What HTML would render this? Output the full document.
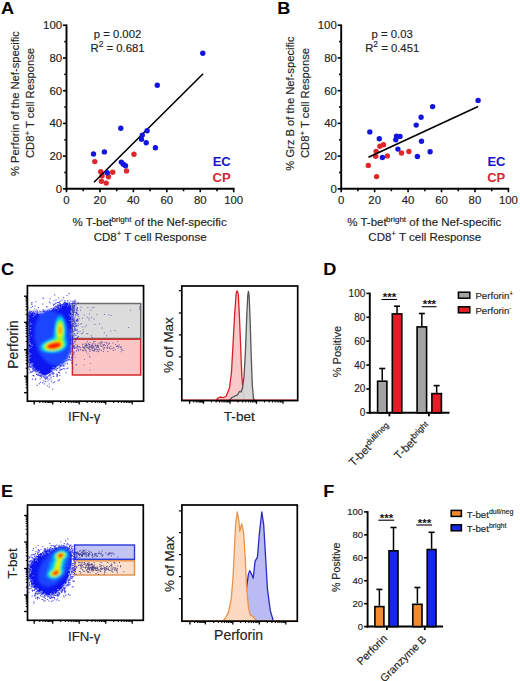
<!DOCTYPE html>
<html><head><meta charset="utf-8"><style>
html,body{margin:0;padding:0;background:#fff;}
svg{display:block;}
text{font-family:"Liberation Sans",sans-serif;}
</style></head><body>
<svg width="520" height="681" viewBox="0 0 520 681">
<rect width="520" height="681" fill="#fff"/>
<g transform="translate(1.0,13.6) scale(1.1,1)">
<text x="0.00" y="0.00" font-size="16.5" text-anchor="start" font-weight="bold" fill="#000" >A</text>
</g>
<g transform="translate(277.2,13.6) scale(1.1,1)">
<text x="0.00" y="0.00" font-size="16.5" text-anchor="start" font-weight="bold" fill="#000" >B</text>
</g>
<g transform="translate(1.0,275.4) scale(1.1,1)">
<text x="0.00" y="0.00" font-size="16.5" text-anchor="start" font-weight="bold" fill="#000" >C</text>
</g>
<g transform="translate(323.2,275.4) scale(1.1,1)">
<text x="0.00" y="0.00" font-size="16.5" text-anchor="start" font-weight="bold" fill="#000" >D</text>
</g>
<g transform="translate(1.0,497.0) scale(1.1,1)">
<text x="0.00" y="0.00" font-size="16.5" text-anchor="start" font-weight="bold" fill="#000" >E</text>
</g>
<g transform="translate(323.2,497.0) scale(1.1,1)">
<text x="0.00" y="0.00" font-size="16.5" text-anchor="start" font-weight="bold" fill="#000" >F</text>
</g>
<line x1="62.90" y1="188.85" x2="66.50" y2="188.85" stroke="#000" stroke-width="1.6" />
<line x1="64.30" y1="172.49" x2="66.50" y2="172.49" stroke="#000" stroke-width="1.6" />
<line x1="62.90" y1="156.13" x2="66.50" y2="156.13" stroke="#000" stroke-width="1.6" />
<line x1="64.30" y1="139.77" x2="66.50" y2="139.77" stroke="#000" stroke-width="1.6" />
<line x1="62.90" y1="123.41" x2="66.50" y2="123.41" stroke="#000" stroke-width="1.6" />
<line x1="64.30" y1="107.05" x2="66.50" y2="107.05" stroke="#000" stroke-width="1.6" />
<line x1="62.90" y1="90.69" x2="66.50" y2="90.69" stroke="#000" stroke-width="1.6" />
<line x1="64.30" y1="74.33" x2="66.50" y2="74.33" stroke="#000" stroke-width="1.6" />
<line x1="62.90" y1="57.97" x2="66.50" y2="57.97" stroke="#000" stroke-width="1.6" />
<line x1="64.30" y1="41.61" x2="66.50" y2="41.61" stroke="#000" stroke-width="1.6" />
<line x1="62.90" y1="25.25" x2="66.50" y2="25.25" stroke="#000" stroke-width="1.6" />
<line x1="66.50" y1="188.85" x2="66.50" y2="192.25" stroke="#000" stroke-width="1.6" />
<line x1="83.22" y1="188.85" x2="83.22" y2="191.25" stroke="#000" stroke-width="1.6" />
<line x1="99.94" y1="188.85" x2="99.94" y2="192.25" stroke="#000" stroke-width="1.6" />
<line x1="116.66" y1="188.85" x2="116.66" y2="191.25" stroke="#000" stroke-width="1.6" />
<line x1="133.38" y1="188.85" x2="133.38" y2="192.25" stroke="#000" stroke-width="1.6" />
<line x1="150.10" y1="188.85" x2="150.10" y2="191.25" stroke="#000" stroke-width="1.6" />
<line x1="166.82" y1="188.85" x2="166.82" y2="192.25" stroke="#000" stroke-width="1.6" />
<line x1="183.54" y1="188.85" x2="183.54" y2="191.25" stroke="#000" stroke-width="1.6" />
<line x1="200.26" y1="188.85" x2="200.26" y2="192.25" stroke="#000" stroke-width="1.6" />
<line x1="216.98" y1="188.85" x2="216.98" y2="191.25" stroke="#000" stroke-width="1.6" />
<line x1="233.70" y1="188.85" x2="233.70" y2="192.25" stroke="#000" stroke-width="1.6" />
<line x1="66.50" y1="24.45" x2="66.50" y2="189.85" stroke="#000" stroke-width="1.9" />
<line x1="65.60" y1="188.85" x2="234.50" y2="188.85" stroke="#000" stroke-width="2.0" />
<text x="62.10" y="192.80" font-size="11.4" text-anchor="end" font-weight="normal" fill="#222" stroke="#222" stroke-width="0.15" >0</text>
<text x="66.50" y="203.75" font-size="11.4" text-anchor="middle" font-weight="normal" fill="#222" stroke="#222" stroke-width="0.15" >0</text>
<text x="62.10" y="160.08" font-size="11.4" text-anchor="end" font-weight="normal" fill="#222" stroke="#222" stroke-width="0.15" >20</text>
<text x="99.94" y="203.75" font-size="11.4" text-anchor="middle" font-weight="normal" fill="#222" stroke="#222" stroke-width="0.15" >20</text>
<text x="62.10" y="127.36" font-size="11.4" text-anchor="end" font-weight="normal" fill="#222" stroke="#222" stroke-width="0.15" >40</text>
<text x="133.38" y="203.75" font-size="11.4" text-anchor="middle" font-weight="normal" fill="#222" stroke="#222" stroke-width="0.15" >40</text>
<text x="62.10" y="94.64" font-size="11.4" text-anchor="end" font-weight="normal" fill="#222" stroke="#222" stroke-width="0.15" >60</text>
<text x="166.82" y="203.75" font-size="11.4" text-anchor="middle" font-weight="normal" fill="#222" stroke="#222" stroke-width="0.15" >60</text>
<text x="62.10" y="61.92" font-size="11.4" text-anchor="end" font-weight="normal" fill="#222" stroke="#222" stroke-width="0.15" >80</text>
<text x="200.26" y="203.75" font-size="11.4" text-anchor="middle" font-weight="normal" fill="#222" stroke="#222" stroke-width="0.15" >80</text>
<text x="62.10" y="29.20" font-size="11.4" text-anchor="end" font-weight="normal" fill="#222" stroke="#222" stroke-width="0.15" >100</text>
<text x="233.70" y="203.75" font-size="11.4" text-anchor="middle" font-weight="normal" fill="#222" stroke="#222" stroke-width="0.15" >100</text>
<circle cx="94.8" cy="161.6" r="2.7" fill="#e0282c"/>
<circle cx="134.0" cy="154.2" r="2.7" fill="#e0282c"/>
<circle cx="100.7" cy="171.7" r="2.7" fill="#e0282c"/>
<circle cx="112.7" cy="172.3" r="2.7" fill="#e0282c"/>
<circle cx="126.5" cy="170.9" r="2.7" fill="#e0282c"/>
<circle cx="108.5" cy="176.7" r="2.7" fill="#e0282c"/>
<circle cx="102.1" cy="175.7" r="2.7" fill="#e0282c"/>
<circle cx="101.4" cy="181.3" r="2.7" fill="#e0282c"/>
<circle cx="106.2" cy="183.1" r="2.7" fill="#e0282c"/>
<line x1="94.00" y1="182.20" x2="203.10" y2="73.80" stroke="#000" stroke-width="1.6" />
<circle cx="202.8" cy="53.2" r="2.7" fill="#1414e0"/>
<circle cx="157.3" cy="85.2" r="2.7" fill="#1414e0"/>
<circle cx="120.8" cy="128.3" r="2.7" fill="#1414e0"/>
<circle cx="147.1" cy="130.8" r="2.7" fill="#1414e0"/>
<circle cx="142.3" cy="135.1" r="2.7" fill="#1414e0"/>
<circle cx="141.5" cy="139.2" r="2.7" fill="#1414e0"/>
<circle cx="146.2" cy="142.7" r="2.7" fill="#1414e0"/>
<circle cx="155.4" cy="147.7" r="2.7" fill="#1414e0"/>
<circle cx="93.5" cy="154.0" r="2.7" fill="#1414e0"/>
<circle cx="104.4" cy="151.9" r="2.7" fill="#1414e0"/>
<circle cx="121.3" cy="162.1" r="2.7" fill="#1414e0"/>
<circle cx="123.3" cy="164.3" r="2.7" fill="#1414e0"/>
<circle cx="125.5" cy="165.8" r="2.7" fill="#1414e0"/>
<circle cx="107.2" cy="172.7" r="2.7" fill="#1414e0"/>
<text x="117.50" y="37.50" font-size="11.3" text-anchor="middle" font-weight="normal" fill="#222" stroke="#222" stroke-width="0.15" >p = 0.002</text>
<text x="117.50" y="51.90" font-size="11.3" text-anchor="middle" font-weight="normal" fill="#222" stroke="#222" stroke-width="0.15" >R<tspan font-size="8.5" dy="-4.6">2</tspan><tspan dy="4.6"> = 0.681</tspan></text>
<text x="212.70" y="166.00" font-size="13" text-anchor="start" font-weight="bold" fill="#1414d0" >EC</text>
<text x="212.50" y="181.60" font-size="13" text-anchor="start" font-weight="bold" fill="#d42830" >CP</text>
<text x="149.60" y="226.20" font-size="11.5" text-anchor="middle" font-weight="normal" fill="#222" stroke="#222" stroke-width="0.15" >% T-bet<tspan font-size="8" dy="-4.4" dx="-0.6">bright</tspan><tspan dy="4.4"> of the Nef-specific</tspan></text>
<text x="150.10" y="240.70" font-size="11.5" text-anchor="middle" font-weight="normal" fill="#222" stroke="#222" stroke-width="0.15" >CD8<tspan font-size="8" dy="-4.4">+</tspan><tspan dy="4.4"> T cell Response</tspan></text>
<g transform="translate(18.9,103.5) rotate(-90)">
<text x="0.00" y="0.00" font-size="11.2" text-anchor="middle" font-weight="normal" fill="#222" stroke="#222" stroke-width="0.15" >% Perforin of the Nef-specific</text>
<text x="0.50" y="15.50" font-size="11.2" text-anchor="middle" font-weight="normal" fill="#222" stroke="#222" stroke-width="0.15" >CD8<tspan font-size="8" dy="-4.3">+</tspan><tspan dy="4.3"> T cell Response</tspan></text>
</g>
<line x1="337.60" y1="188.85" x2="341.20" y2="188.85" stroke="#000" stroke-width="1.6" />
<line x1="339.00" y1="172.49" x2="341.20" y2="172.49" stroke="#000" stroke-width="1.6" />
<line x1="337.60" y1="156.13" x2="341.20" y2="156.13" stroke="#000" stroke-width="1.6" />
<line x1="339.00" y1="139.77" x2="341.20" y2="139.77" stroke="#000" stroke-width="1.6" />
<line x1="337.60" y1="123.41" x2="341.20" y2="123.41" stroke="#000" stroke-width="1.6" />
<line x1="339.00" y1="107.05" x2="341.20" y2="107.05" stroke="#000" stroke-width="1.6" />
<line x1="337.60" y1="90.69" x2="341.20" y2="90.69" stroke="#000" stroke-width="1.6" />
<line x1="339.00" y1="74.33" x2="341.20" y2="74.33" stroke="#000" stroke-width="1.6" />
<line x1="337.60" y1="57.97" x2="341.20" y2="57.97" stroke="#000" stroke-width="1.6" />
<line x1="339.00" y1="41.61" x2="341.20" y2="41.61" stroke="#000" stroke-width="1.6" />
<line x1="337.60" y1="25.25" x2="341.20" y2="25.25" stroke="#000" stroke-width="1.6" />
<line x1="341.20" y1="188.85" x2="341.20" y2="192.25" stroke="#000" stroke-width="1.6" />
<line x1="357.92" y1="188.85" x2="357.92" y2="191.25" stroke="#000" stroke-width="1.6" />
<line x1="374.64" y1="188.85" x2="374.64" y2="192.25" stroke="#000" stroke-width="1.6" />
<line x1="391.36" y1="188.85" x2="391.36" y2="191.25" stroke="#000" stroke-width="1.6" />
<line x1="408.08" y1="188.85" x2="408.08" y2="192.25" stroke="#000" stroke-width="1.6" />
<line x1="424.80" y1="188.85" x2="424.80" y2="191.25" stroke="#000" stroke-width="1.6" />
<line x1="441.52" y1="188.85" x2="441.52" y2="192.25" stroke="#000" stroke-width="1.6" />
<line x1="458.24" y1="188.85" x2="458.24" y2="191.25" stroke="#000" stroke-width="1.6" />
<line x1="474.96" y1="188.85" x2="474.96" y2="192.25" stroke="#000" stroke-width="1.6" />
<line x1="491.68" y1="188.85" x2="491.68" y2="191.25" stroke="#000" stroke-width="1.6" />
<line x1="508.40" y1="188.85" x2="508.40" y2="192.25" stroke="#000" stroke-width="1.6" />
<line x1="341.20" y1="24.45" x2="341.20" y2="189.85" stroke="#000" stroke-width="1.9" />
<line x1="340.30" y1="188.85" x2="509.20" y2="188.85" stroke="#000" stroke-width="2.0" />
<text x="336.80" y="192.80" font-size="11.4" text-anchor="end" font-weight="normal" fill="#222" stroke="#222" stroke-width="0.15" >0</text>
<text x="341.20" y="203.75" font-size="11.4" text-anchor="middle" font-weight="normal" fill="#222" stroke="#222" stroke-width="0.15" >0</text>
<text x="336.80" y="160.08" font-size="11.4" text-anchor="end" font-weight="normal" fill="#222" stroke="#222" stroke-width="0.15" >20</text>
<text x="374.64" y="203.75" font-size="11.4" text-anchor="middle" font-weight="normal" fill="#222" stroke="#222" stroke-width="0.15" >20</text>
<text x="336.80" y="127.36" font-size="11.4" text-anchor="end" font-weight="normal" fill="#222" stroke="#222" stroke-width="0.15" >40</text>
<text x="408.08" y="203.75" font-size="11.4" text-anchor="middle" font-weight="normal" fill="#222" stroke="#222" stroke-width="0.15" >40</text>
<text x="336.80" y="94.64" font-size="11.4" text-anchor="end" font-weight="normal" fill="#222" stroke="#222" stroke-width="0.15" >60</text>
<text x="441.52" y="203.75" font-size="11.4" text-anchor="middle" font-weight="normal" fill="#222" stroke="#222" stroke-width="0.15" >60</text>
<text x="336.80" y="61.92" font-size="11.4" text-anchor="end" font-weight="normal" fill="#222" stroke="#222" stroke-width="0.15" >80</text>
<text x="474.96" y="203.75" font-size="11.4" text-anchor="middle" font-weight="normal" fill="#222" stroke="#222" stroke-width="0.15" >80</text>
<text x="336.80" y="29.20" font-size="11.4" text-anchor="end" font-weight="normal" fill="#222" stroke="#222" stroke-width="0.15" >100</text>
<text x="508.40" y="203.75" font-size="11.4" text-anchor="middle" font-weight="normal" fill="#222" stroke="#222" stroke-width="0.15" >100</text>
<circle cx="379.9" cy="146.2" r="2.7" fill="#e0282c"/>
<circle cx="383.5" cy="144.8" r="2.7" fill="#e0282c"/>
<circle cx="376.1" cy="151.5" r="2.7" fill="#e0282c"/>
<circle cx="375.7" cy="156.2" r="2.7" fill="#e0282c"/>
<circle cx="387.3" cy="155.9" r="2.7" fill="#e0282c"/>
<circle cx="401.5" cy="153.0" r="2.7" fill="#e0282c"/>
<circle cx="408.9" cy="151.5" r="2.7" fill="#e0282c"/>
<circle cx="368.3" cy="165.4" r="2.7" fill="#e0282c"/>
<circle cx="376.6" cy="176.6" r="2.7" fill="#e0282c"/>
<line x1="368.50" y1="157.30" x2="478.10" y2="106.50" stroke="#000" stroke-width="1.6" />
<circle cx="478.1" cy="100.4" r="2.7" fill="#1414e0"/>
<circle cx="432.6" cy="106.6" r="2.7" fill="#1414e0"/>
<circle cx="421.1" cy="117.2" r="2.7" fill="#1414e0"/>
<circle cx="416.2" cy="125.1" r="2.7" fill="#1414e0"/>
<circle cx="369.8" cy="131.9" r="2.7" fill="#1414e0"/>
<circle cx="379.3" cy="138.8" r="2.7" fill="#1414e0"/>
<circle cx="396.5" cy="136.1" r="2.7" fill="#1414e0"/>
<circle cx="400.0" cy="136.4" r="2.7" fill="#1414e0"/>
<circle cx="395.8" cy="139.8" r="2.7" fill="#1414e0"/>
<circle cx="421.5" cy="141.2" r="2.7" fill="#1414e0"/>
<circle cx="397.9" cy="149.1" r="2.7" fill="#1414e0"/>
<circle cx="430.1" cy="151.8" r="2.7" fill="#1414e0"/>
<circle cx="417.4" cy="156.5" r="2.7" fill="#1414e0"/>
<circle cx="382.4" cy="157.5" r="2.7" fill="#1414e0"/>
<text x="392.20" y="37.50" font-size="11.3" text-anchor="middle" font-weight="normal" fill="#222" stroke="#222" stroke-width="0.15" >p = 0.03</text>
<text x="392.20" y="51.90" font-size="11.3" text-anchor="middle" font-weight="normal" fill="#222" stroke="#222" stroke-width="0.15" >R<tspan font-size="8.5" dy="-4.6">2</tspan><tspan dy="4.6"> = 0.451</tspan></text>
<text x="487.40" y="166.00" font-size="13" text-anchor="start" font-weight="bold" fill="#1414d0" >EC</text>
<text x="487.20" y="181.60" font-size="13" text-anchor="start" font-weight="bold" fill="#d42830" >CP</text>
<text x="424.30" y="226.20" font-size="11.5" text-anchor="middle" font-weight="normal" fill="#222" stroke="#222" stroke-width="0.15" >% T-bet<tspan font-size="8" dy="-4.4" dx="-0.6">bright</tspan><tspan dy="4.4"> of the Nef-specific</tspan></text>
<text x="424.80" y="240.70" font-size="11.5" text-anchor="middle" font-weight="normal" fill="#222" stroke="#222" stroke-width="0.15" >CD8<tspan font-size="8" dy="-4.4">+</tspan><tspan dy="4.4"> T cell Response</tspan></text>
<g transform="translate(293.59999999999997,103.5) rotate(-90)">
<text x="0.00" y="0.00" font-size="11.2" text-anchor="middle" font-weight="normal" fill="#222" stroke="#222" stroke-width="0.15" >% Grz B of the Nef-specific</text>
<text x="0.50" y="15.50" font-size="11.2" text-anchor="middle" font-weight="normal" fill="#222" stroke="#222" stroke-width="0.15" >CD8<tspan font-size="8" dy="-4.3">+</tspan><tspan dy="4.3"> T cell Response</tspan></text>
</g>
<line x1="366.30" y1="412.80" x2="369.80" y2="412.80" stroke="#000" stroke-width="1.6" />
<text x="365.30" y="416.30" font-size="10" text-anchor="end" font-weight="normal" fill="#222" stroke="#222" stroke-width="0.15" >0</text>
<line x1="366.30" y1="388.92" x2="369.80" y2="388.92" stroke="#000" stroke-width="1.6" />
<text x="365.30" y="392.42" font-size="10" text-anchor="end" font-weight="normal" fill="#222" stroke="#222" stroke-width="0.15" >20</text>
<line x1="366.30" y1="365.04" x2="369.80" y2="365.04" stroke="#000" stroke-width="1.6" />
<text x="365.30" y="368.54" font-size="10" text-anchor="end" font-weight="normal" fill="#222" stroke="#222" stroke-width="0.15" >40</text>
<line x1="366.30" y1="341.16" x2="369.80" y2="341.16" stroke="#000" stroke-width="1.6" />
<text x="365.30" y="344.66" font-size="10" text-anchor="end" font-weight="normal" fill="#222" stroke="#222" stroke-width="0.15" >60</text>
<line x1="366.30" y1="317.28" x2="369.80" y2="317.28" stroke="#000" stroke-width="1.6" />
<text x="365.30" y="320.78" font-size="10" text-anchor="end" font-weight="normal" fill="#222" stroke="#222" stroke-width="0.15" >80</text>
<line x1="366.30" y1="293.40" x2="369.80" y2="293.40" stroke="#000" stroke-width="1.6" />
<text x="365.30" y="296.90" font-size="10" text-anchor="end" font-weight="normal" fill="#222" stroke="#222" stroke-width="0.15" >100</text>
<line x1="369.80" y1="292.60" x2="369.80" y2="413.80" stroke="#000" stroke-width="1.9" />
<line x1="368.80" y1="412.80" x2="449.50" y2="412.80" stroke="#000" stroke-width="2.0" />
<line x1="389.40" y1="412.80" x2="389.40" y2="416.30" stroke="#000" stroke-width="1.8" />
<line x1="428.90" y1="412.80" x2="428.90" y2="416.30" stroke="#000" stroke-width="1.8" />
<line x1="382.25" y1="380.40" x2="382.25" y2="368.50" stroke="#000" stroke-width="1.5" />
<line x1="379.25" y1="368.50" x2="385.25" y2="368.50" stroke="#000" stroke-width="1.6" />
<rect x="377.60" y="381.20" width="9.30" height="31.60" fill="#a3a3a3" stroke="#000" stroke-width="1.6"/>
<line x1="397.05" y1="313.10" x2="397.05" y2="306.20" stroke="#000" stroke-width="1.5" />
<line x1="394.05" y1="306.20" x2="400.05" y2="306.20" stroke="#000" stroke-width="1.6" />
<rect x="392.30" y="313.90" width="9.50" height="98.90" fill="#e41e26" stroke="#000" stroke-width="1.6"/>
<line x1="421.85" y1="326.10" x2="421.85" y2="313.50" stroke="#000" stroke-width="1.5" />
<line x1="418.85" y1="313.50" x2="424.85" y2="313.50" stroke="#000" stroke-width="1.6" />
<rect x="417.10" y="326.90" width="9.50" height="85.90" fill="#a3a3a3" stroke="#000" stroke-width="1.6"/>
<line x1="436.65" y1="392.80" x2="436.65" y2="385.60" stroke="#000" stroke-width="1.5" />
<line x1="433.65" y1="385.60" x2="439.65" y2="385.60" stroke="#000" stroke-width="1.6" />
<rect x="431.90" y="393.60" width="9.50" height="19.20" fill="#e41e26" stroke="#000" stroke-width="1.6"/>
<line x1="381.50" y1="299.50" x2="396.90" y2="299.50" stroke="#000" stroke-width="1.1" />
<text x="389.50" y="301.10" font-size="11.5" text-anchor="middle" font-weight="bold" fill="#111" >***</text>
<line x1="421.70" y1="306.70" x2="436.50" y2="306.70" stroke="#000" stroke-width="1.1" />
<text x="429.40" y="308.30" font-size="11.5" text-anchor="middle" font-weight="bold" fill="#111" >***</text>
<g transform="translate(392.0,428.5) rotate(-45)">
<text x="0.00" y="0.00" font-size="11.3" text-anchor="end" font-weight="normal" fill="#222" stroke="#222" stroke-width="0.15" >T-bet<tspan font-size="8.2" dy="-4.0">dull/neg</tspan></text>
</g>
<g transform="translate(431.5,427.5) rotate(-45)">
<text x="0.00" y="0.00" font-size="11.3" text-anchor="end" font-weight="normal" fill="#222" stroke="#222" stroke-width="0.15" >T-bet<tspan font-size="8.2" dy="-4.0">bright</tspan></text>
</g>
<g transform="translate(341.2,351.6) rotate(-90)">
<text x="0.00" y="0.00" font-size="11.0" text-anchor="middle" font-weight="normal" fill="#222" stroke="#222" stroke-width="0.15" >% Positive</text>
</g>
<rect x="458.40" y="292.20" width="11.4" height="6.0" fill="#a3a3a3" stroke="#000" stroke-width="1.5"/>
<text x="475.40" y="299.40" font-size="9.7" text-anchor="start" font-weight="normal" fill="#222" stroke="#222" stroke-width="0.15" >Perforin<tspan font-size="6.5" dy="-3.8">+</tspan></text>
<rect x="458.40" y="306.80" width="11.4" height="6.0" fill="#e41e26" stroke="#000" stroke-width="1.5"/>
<text x="475.40" y="314.00" font-size="9.7" text-anchor="start" font-weight="normal" fill="#222" stroke="#222" stroke-width="0.15" >Perforin<tspan font-size="6.5" dy="-3.8">-</tspan></text>
<line x1="364.10" y1="626.60" x2="367.60" y2="626.60" stroke="#000" stroke-width="1.6" />
<text x="363.10" y="630.10" font-size="9.5" text-anchor="end" font-weight="normal" fill="#222" stroke="#222" stroke-width="0.15" >0</text>
<line x1="364.10" y1="603.66" x2="367.60" y2="603.66" stroke="#000" stroke-width="1.6" />
<text x="363.10" y="607.16" font-size="9.5" text-anchor="end" font-weight="normal" fill="#222" stroke="#222" stroke-width="0.15" >20</text>
<line x1="364.10" y1="580.72" x2="367.60" y2="580.72" stroke="#000" stroke-width="1.6" />
<text x="363.10" y="584.22" font-size="9.5" text-anchor="end" font-weight="normal" fill="#222" stroke="#222" stroke-width="0.15" >40</text>
<line x1="364.10" y1="557.78" x2="367.60" y2="557.78" stroke="#000" stroke-width="1.6" />
<text x="363.10" y="561.28" font-size="9.5" text-anchor="end" font-weight="normal" fill="#222" stroke="#222" stroke-width="0.15" >60</text>
<line x1="364.10" y1="534.84" x2="367.60" y2="534.84" stroke="#000" stroke-width="1.6" />
<text x="363.10" y="538.34" font-size="9.5" text-anchor="end" font-weight="normal" fill="#222" stroke="#222" stroke-width="0.15" >80</text>
<line x1="364.10" y1="511.90" x2="367.60" y2="511.90" stroke="#000" stroke-width="1.6" />
<text x="363.10" y="515.40" font-size="9.5" text-anchor="end" font-weight="normal" fill="#222" stroke="#222" stroke-width="0.15" >100</text>
<line x1="367.60" y1="511.10" x2="367.60" y2="627.60" stroke="#000" stroke-width="1.9" />
<line x1="366.60" y1="626.60" x2="443.10" y2="626.60" stroke="#000" stroke-width="2.0" />
<line x1="386.90" y1="626.60" x2="386.90" y2="630.10" stroke="#000" stroke-width="1.8" />
<line x1="424.80" y1="626.60" x2="424.80" y2="630.10" stroke="#000" stroke-width="1.8" />
<line x1="379.40" y1="605.80" x2="379.40" y2="589.40" stroke="#000" stroke-width="1.5" />
<line x1="376.40" y1="589.40" x2="382.40" y2="589.40" stroke="#000" stroke-width="1.6" />
<rect x="374.90" y="606.60" width="9.00" height="20.00" fill="#f28c2e" stroke="#000" stroke-width="1.6"/>
<line x1="393.50" y1="550.00" x2="393.50" y2="527.50" stroke="#000" stroke-width="1.5" />
<line x1="390.50" y1="527.50" x2="396.50" y2="527.50" stroke="#000" stroke-width="1.6" />
<rect x="389.00" y="550.80" width="9.00" height="75.80" fill="#1428e6" stroke="#000" stroke-width="1.6"/>
<line x1="417.40" y1="603.50" x2="417.40" y2="587.50" stroke="#000" stroke-width="1.5" />
<line x1="414.40" y1="587.50" x2="420.40" y2="587.50" stroke="#000" stroke-width="1.6" />
<rect x="412.80" y="604.30" width="9.20" height="22.30" fill="#f28c2e" stroke="#000" stroke-width="1.6"/>
<line x1="431.60" y1="548.70" x2="431.60" y2="532.30" stroke="#000" stroke-width="1.5" />
<line x1="428.60" y1="532.30" x2="434.60" y2="532.30" stroke="#000" stroke-width="1.6" />
<rect x="427.20" y="549.50" width="8.80" height="77.10" fill="#1428e6" stroke="#000" stroke-width="1.6"/>
<line x1="378.30" y1="520.20" x2="394.20" y2="520.20" stroke="#000" stroke-width="1.1" />
<text x="386.55" y="521.80" font-size="11.5" text-anchor="middle" font-weight="bold" fill="#111" >***</text>
<line x1="416.30" y1="525.00" x2="432.10" y2="525.00" stroke="#000" stroke-width="1.1" />
<text x="424.50" y="526.60" font-size="11.5" text-anchor="middle" font-weight="bold" fill="#111" >***</text>
<g transform="translate(388.0,639.0) rotate(-45)">
<text x="0.00" y="0.00" font-size="10.8" text-anchor="end" font-weight="normal" fill="#222" stroke="#222" stroke-width="0.15" >Perforin</text>
</g>
<g transform="translate(427.0,640.2) rotate(-45)">
<text x="0.00" y="0.00" font-size="10.8" text-anchor="end" font-weight="normal" fill="#222" stroke="#222" stroke-width="0.15" >Granzyme B</text>
</g>
<g transform="translate(340.0,567.3) rotate(-90)">
<text x="0.00" y="0.00" font-size="10.6" text-anchor="middle" font-weight="normal" fill="#222" stroke="#222" stroke-width="0.15" >% Positive</text>
</g>
<rect x="451.20" y="510.40" width="10.2" height="6.0" fill="#f28c2e" stroke="#000" stroke-width="1.5"/>
<text x="466.80" y="517.60" font-size="9.7" text-anchor="start" font-weight="normal" fill="#222" stroke="#222" stroke-width="0.15" >T-bet<tspan font-size="7" dy="-3.8">dull/neg</tspan></text>
<rect x="451.20" y="524.80" width="10.2" height="6.0" fill="#1428e6" stroke="#000" stroke-width="1.5"/>
<text x="466.80" y="532.00" font-size="9.7" text-anchor="start" font-weight="normal" fill="#222" stroke="#222" stroke-width="0.15" >T-bet<tspan font-size="7" dy="-3.8">bright</tspan></text>
<defs><filter id="b1" x="-50%" y="-50%" width="200%" height="200%"><feGaussianBlur stdDeviation="1.1"/></filter><filter id="b2" x="-50%" y="-50%" width="200%" height="200%"><feGaussianBlur stdDeviation="1.8"/></filter><filter id="b07" x="-50%" y="-50%" width="200%" height="200%"><feGaussianBlur stdDeviation="0.8"/></filter><filter id="b05" x="-50%" y="-50%" width="200%" height="200%"><feGaussianBlur stdDeviation="0.6"/></filter><clipPath id="clipC"><rect x="28.3" y="286.5" width="114.4" height="113.9"/></clipPath><clipPath id="clipE"><rect x="28.3" y="505.8" width="114.1" height="113.4"/></clipPath></defs>
<rect x="72.4" y="303.5" width="68.3" height="35.0" fill="#dcdcdc" stroke="#6e6e6e" stroke-width="1.5"/>
<rect x="72.4" y="339.2" width="68.3" height="35.8" fill="#fdc6c6" stroke="#d22a2a" stroke-width="1.5"/>
<g clip-path="url(#clipC)">
<path d="M80.0 309.8h1.0v1.0h-1.0zM91.9 307.3h1.0v1.0h-1.0zM86.8 316.7h1.0v1.0h-1.0zM74.1 321.2h1.0v1.0h-1.0zM73.7 318.9h1.0v1.0h-1.0zM74.3 307.9h1.0v1.0h-1.0zM82.9 331.5h1.0v1.0h-1.0zM75.4 312.1h1.0v1.0h-1.0zM90.8 335.3h1.0v1.0h-1.0zM88.5 317.7h1.0v1.0h-1.0zM139.0 306.5h1.0v1.0h-1.0zM108.2 314.3h1.0v1.0h-1.0zM75.8 308.8h1.0v1.0h-1.0zM79.6 331.1h1.0v1.0h-1.0zM76.6 323.6h1.0v1.0h-1.0zM91.3 316.9h1.0v1.0h-1.0zM87.3 307.0h1.0v1.0h-1.0zM74.1 311.6h1.0v1.0h-1.0zM93.5 318.7h1.0v1.0h-1.0zM79.8 323.7h1.0v1.0h-1.0zM83.9 314.6h1.0v1.0h-1.0zM101.5 327.4h1.0v1.0h-1.0zM78.0 323.4h1.0v1.0h-1.0zM86.4 333.0h1.0v1.0h-1.0zM96.5 314.2h1.0v1.0h-1.0zM139.0 308.8h1.0v1.0h-1.0zM82.7 329.2h1.0v1.0h-1.0zM76.0 320.6h1.0v1.0h-1.0zM73.7 326.4h1.0v1.0h-1.0zM99.0 323.3h1.0v1.0h-1.0zM110.5 315.0h1.0v1.0h-1.0zM94.4 324.0h1.0v1.0h-1.0zM88.6 319.6h1.0v1.0h-1.0zM106.0 335.2h1.0v1.0h-1.0zM84.6 326.3h1.0v1.0h-1.0zM74.1 327.4h1.0v1.0h-1.0zM91.7 336.8h1.0v1.0h-1.0zM104.1 314.1h1.0v1.0h-1.0zM81.8 326.4h1.0v1.0h-1.0zM73.4 319.8h1.0v1.0h-1.0zM76.3 308.7h1.0v1.0h-1.0zM74.1 329.6h1.0v1.0h-1.0zM75.5 312.9h1.0v1.0h-1.0zM81.9 332.9h1.0v1.0h-1.0zM74.5 319.4h1.0v1.0h-1.0zM87.4 333.3h1.0v1.0h-1.0zM103.8 332.6h1.0v1.0h-1.0zM78.9 318.3h1.0v1.0h-1.0zM81.0 333.3h1.0v1.0h-1.0zM129.9 309.8h1.0v1.0h-1.0zM76.5 312.4h1.0v1.0h-1.0zM77.8 320.5h1.0v1.0h-1.0zM89.0 313.4h1.0v1.0h-1.0zM73.1 318.4h1.0v1.0h-1.0zM81.3 323.1h1.0v1.0h-1.0zM128.1 327.1h1.0v1.0h-1.0zM86.0 324.8h1.0v1.0h-1.0zM93.3 306.7h1.0v1.0h-1.0zM114.4 330.0h1.0v1.0h-1.0zM110.4 330.5h1.0v1.0h-1.0zM82.0 317.8h1.0v1.0h-1.0zM75.0 325.3h1.0v1.0h-1.0zM74.2 307.2h1.0v1.0h-1.0zM77.2 310.2h1.0v1.0h-1.0zM80.5 306.7h1.0v1.0h-1.0zM73.0 309.8h1.0v1.0h-1.0zM74.9 316.6h1.0v1.0h-1.0zM73.5 333.0h1.0v1.0h-1.0zM90.1 309.8h1.0v1.0h-1.0zM78.2 316.1h1.0v1.0h-1.0z" fill="#4646a8" opacity="0.75"/>
<path d="M92.3 350.1h1.0v1.0h-1.0zM122.5 350.0h1.0v1.0h-1.0zM95.1 345.4h1.0v1.0h-1.0zM83.5 346.6h1.0v1.0h-1.0zM91.7 346.0h1.0v1.0h-1.0zM86.0 351.4h1.0v1.0h-1.0zM78.2 349.5h1.0v1.0h-1.0zM85.4 345.5h1.0v1.0h-1.0zM97.4 349.6h1.0v1.0h-1.0zM119.8 347.0h1.0v1.0h-1.0zM110.4 345.8h1.0v1.0h-1.0zM92.4 344.6h1.0v1.0h-1.0zM86.2 346.9h1.0v1.0h-1.0zM106.1 343.3h1.0v1.0h-1.0zM91.4 347.3h1.0v1.0h-1.0zM120.8 351.2h1.0v1.0h-1.0zM109.8 348.2h1.0v1.0h-1.0zM104.5 342.0h1.0v1.0h-1.0zM88.3 344.1h1.0v1.0h-1.0zM78.8 346.2h1.0v1.0h-1.0zM78.7 346.1h1.0v1.0h-1.0zM102.6 348.5h1.0v1.0h-1.0zM117.2 341.0h1.0v1.0h-1.0zM121.4 348.5h1.0v1.0h-1.0zM117.0 345.3h1.0v1.0h-1.0zM88.3 347.9h1.0v1.0h-1.0zM87.3 347.5h1.0v1.0h-1.0zM112.7 350.0h1.0v1.0h-1.0zM109.1 342.7h1.0v1.0h-1.0zM107.1 347.0h1.0v1.0h-1.0zM82.6 343.5h1.0v1.0h-1.0zM106.3 341.7h1.0v1.0h-1.0zM104.9 344.9h1.0v1.0h-1.0zM106.6 346.7h1.0v1.0h-1.0zM91.5 348.7h1.0v1.0h-1.0zM93.2 341.0h1.0v1.0h-1.0zM93.3 350.4h1.0v1.0h-1.0zM86.3 345.1h1.0v1.0h-1.0zM84.6 349.8h1.0v1.0h-1.0zM107.4 351.1h1.0v1.0h-1.0zM85.4 349.9h1.0v1.0h-1.0zM101.3 341.0h1.0v1.0h-1.0zM91.9 345.2h1.0v1.0h-1.0zM77.2 346.1h1.0v1.0h-1.0zM118.8 344.6h1.0v1.0h-1.0zM115.1 343.9h1.0v1.0h-1.0zM94.2 349.9h1.0v1.0h-1.0zM87.8 343.0h1.0v1.0h-1.0zM89.1 346.0h1.0v1.0h-1.0zM98.8 348.4h1.0v1.0h-1.0zM89.4 345.3h1.0v1.0h-1.0zM113.3 347.2h1.0v1.0h-1.0zM92.0 343.2h1.0v1.0h-1.0zM112.9 347.4h1.0v1.0h-1.0zM93.8 349.2h1.0v1.0h-1.0zM97.1 345.0h1.0v1.0h-1.0zM96.8 349.3h1.0v1.0h-1.0zM86.8 346.8h1.0v1.0h-1.0zM75.5 347.0h1.0v1.0h-1.0zM95.3 345.0h1.0v1.0h-1.0zM103.9 344.3h1.0v1.0h-1.0zM96.7 345.7h1.0v1.0h-1.0zM97.8 346.8h1.0v1.0h-1.0zM98.0 345.3h1.0v1.0h-1.0zM89.0 345.7h1.0v1.0h-1.0zM96.4 350.9h1.0v1.0h-1.0zM98.0 346.9h1.0v1.0h-1.0zM94.5 341.0h1.0v1.0h-1.0zM99.7 343.4h1.0v1.0h-1.0zM102.6 346.4h1.0v1.0h-1.0zM94.7 343.6h1.0v1.0h-1.0zM115.8 345.9h1.0v1.0h-1.0zM102.8 350.9h1.0v1.0h-1.0zM89.4 342.2h1.0v1.0h-1.0zM98.0 351.2h1.0v1.0h-1.0zM85.0 344.8h1.0v1.0h-1.0zM84.4 345.6h1.0v1.0h-1.0zM88.8 346.9h1.0v1.0h-1.0zM81.9 344.3h1.0v1.0h-1.0zM112.4 342.5h1.0v1.0h-1.0zM85.7 345.7h1.0v1.0h-1.0zM85.3 342.8h1.0v1.0h-1.0zM111.5 348.3h1.0v1.0h-1.0zM116.8 346.1h1.0v1.0h-1.0zM93.2 341.0h1.0v1.0h-1.0zM108.7 347.1h1.0v1.0h-1.0zM86.0 343.7h1.0v1.0h-1.0zM91.6 347.8h1.0v1.0h-1.0zM87.3 344.8h1.0v1.0h-1.0zM77.9 350.3h1.0v1.0h-1.0zM97.8 346.0h1.0v1.0h-1.0zM91.4 346.7h1.0v1.0h-1.0zM100.1 345.6h1.0v1.0h-1.0zM120.8 346.4h1.0v1.0h-1.0zM106.6 347.7h1.0v1.0h-1.0zM89.6 346.3h1.0v1.0h-1.0zM79.7 346.9h1.0v1.0h-1.0zM84.7 344.5h1.0v1.0h-1.0zM93.9 350.6h1.0v1.0h-1.0zM89.3 344.0h1.0v1.0h-1.0zM85.5 349.5h1.0v1.0h-1.0zM102.9 344.9h1.0v1.0h-1.0zM82.8 350.2h1.0v1.0h-1.0zM94.0 347.9h1.0v1.0h-1.0zM81.9 349.9h1.0v1.0h-1.0zM107.2 345.1h1.0v1.0h-1.0zM82.5 347.1h1.0v1.0h-1.0zM110.3 345.7h1.0v1.0h-1.0zM94.8 344.7h1.0v1.0h-1.0zM114.6 349.3h1.0v1.0h-1.0zM89.6 348.7h1.0v1.0h-1.0zM88.7 348.8h1.0v1.0h-1.0zM83.8 346.9h1.0v1.0h-1.0zM87.5 347.2h1.0v1.0h-1.0zM90.9 345.0h1.0v1.0h-1.0zM90.3 350.6h1.0v1.0h-1.0zM96.1 347.6h1.0v1.0h-1.0zM77.7 348.7h1.0v1.0h-1.0zM89.1 350.7h1.0v1.0h-1.0zM97.7 346.9h1.0v1.0h-1.0zM87.1 341.0h1.0v1.0h-1.0zM83.7 347.5h1.0v1.0h-1.0zM108.0 343.7h1.0v1.0h-1.0zM108.8 347.8h1.0v1.0h-1.0zM93.1 342.5h1.0v1.0h-1.0zM120.4 346.3h1.0v1.0h-1.0zM91.7 348.5h1.0v1.0h-1.0zM100.5 343.0h1.0v1.0h-1.0zM93.4 346.0h1.0v1.0h-1.0zM84.7 347.2h1.0v1.0h-1.0zM81.8 346.4h1.0v1.0h-1.0zM86.1 344.5h1.0v1.0h-1.0zM82.6 349.4h1.0v1.0h-1.0zM101.7 342.1h1.0v1.0h-1.0zM90.0 346.6h1.0v1.0h-1.0zM94.9 348.7h1.0v1.0h-1.0zM85.9 344.6h1.0v1.0h-1.0zM117.7 347.2h1.0v1.0h-1.0zM119.0 344.6h1.0v1.0h-1.0zM118.2 345.9h1.0v1.0h-1.0zM90.8 346.4h1.0v1.0h-1.0zM92.8 346.6h1.0v1.0h-1.0zM95.4 344.8h1.0v1.0h-1.0zM96.3 346.5h1.0v1.0h-1.0zM75.7 346.4h1.0v1.0h-1.0zM93.3 347.6h1.0v1.0h-1.0zM79.9 348.7h1.0v1.0h-1.0zM88.5 346.8h1.0v1.0h-1.0zM98.8 342.2h1.0v1.0h-1.0zM101.3 345.7h1.0v1.0h-1.0zM103.5 348.4h1.0v1.0h-1.0zM91.3 344.7h1.0v1.0h-1.0zM120.8 349.0h1.0v1.0h-1.0zM100.8 349.9h1.0v1.0h-1.0zM80.0 349.3h1.0v1.0h-1.0zM100.2 341.8h1.0v1.0h-1.0zM104.2 347.0h1.0v1.0h-1.0zM96.8 345.2h1.0v1.0h-1.0zM96.3 348.9h1.0v1.0h-1.0zM108.4 342.5h1.0v1.0h-1.0zM98.8 349.6h1.0v1.0h-1.0zM102.6 344.0h1.0v1.0h-1.0zM88.4 347.9h1.0v1.0h-1.0zM92.2 346.8h1.0v1.0h-1.0zM83.6 348.2h1.0v1.0h-1.0zM100.2 343.6h1.0v1.0h-1.0zM100.2 345.2h1.0v1.0h-1.0zM75.3 343.8h1.0v1.0h-1.0zM107.0 346.5h1.0v1.0h-1.0zM97.2 343.4h1.0v1.0h-1.0z" fill="#40409a" opacity="0.8"/>
<path d="M87.5 353.2h1.0v1.0h-1.0zM89.2 356.5h1.0v1.0h-1.0zM74.6 356.8h1.0v1.0h-1.0zM89.0 355.7h1.0v1.0h-1.0zM89.3 369.6h1.0v1.0h-1.0zM83.9 358.9h1.0v1.0h-1.0zM83.5 364.3h1.0v1.0h-1.0zM89.9 363.1h1.0v1.0h-1.0z" fill="#40409a" opacity="0.6"/>
<path d="M55.5 299.4h1.1v1.1h-1.1zM22.9 351.2h1.1v1.1h-1.1zM54.6 308.2h1.1v1.1h-1.1zM59.8 302.9h1.1v1.1h-1.1zM38.2 373.9h1.1v1.1h-1.1zM66.3 355.3h1.1v1.1h-1.1zM73.1 308.1h1.1v1.1h-1.1zM35.4 371.6h1.1v1.1h-1.1zM39.8 311.5h1.1v1.1h-1.1zM51.9 373.3h1.1v1.1h-1.1zM27.9 360.0h1.1v1.1h-1.1zM71.7 307.5h1.1v1.1h-1.1zM69.1 349.7h1.1v1.1h-1.1zM71.3 356.6h1.1v1.1h-1.1zM73.7 306.7h1.1v1.1h-1.1zM33.0 367.6h1.1v1.1h-1.1zM39.3 375.1h1.1v1.1h-1.1zM64.6 363.5h1.1v1.1h-1.1zM53.5 307.2h1.1v1.1h-1.1zM33.2 368.8h1.1v1.1h-1.1zM45.7 311.8h1.1v1.1h-1.1zM45.7 311.9h1.1v1.1h-1.1zM23.9 339.0h1.1v1.1h-1.1zM34.7 369.4h1.1v1.1h-1.1zM73.8 322.2h1.1v1.1h-1.1zM76.0 350.4h1.1v1.1h-1.1zM27.5 361.9h1.1v1.1h-1.1zM58.6 302.4h1.1v1.1h-1.1zM54.3 369.5h1.1v1.1h-1.1zM29.5 310.2h1.1v1.1h-1.1zM23.3 314.1h1.1v1.1h-1.1zM62.5 365.4h1.1v1.1h-1.1zM27.9 323.3h1.1v1.1h-1.1zM39.7 375.7h1.1v1.1h-1.1zM20.4 310.9h1.1v1.1h-1.1zM49.1 309.6h1.1v1.1h-1.1zM73.7 352.4h1.1v1.1h-1.1zM73.1 310.6h1.1v1.1h-1.1zM56.8 306.8h1.1v1.1h-1.1zM77.1 320.2h1.1v1.1h-1.1zM72.7 300.5h1.1v1.1h-1.1zM28.3 318.8h1.1v1.1h-1.1zM63.9 302.0h1.1v1.1h-1.1zM76.4 319.2h1.1v1.1h-1.1zM27.0 314.3h1.1v1.1h-1.1zM54.9 306.5h1.1v1.1h-1.1zM46.2 376.2h1.1v1.1h-1.1zM30.9 311.1h1.1v1.1h-1.1zM28.9 362.5h1.1v1.1h-1.1zM52.6 303.4h1.1v1.1h-1.1zM48.4 309.2h1.1v1.1h-1.1zM27.2 345.8h1.1v1.1h-1.1zM19.0 338.9h1.1v1.1h-1.1zM75.7 311.6h1.1v1.1h-1.1zM48.8 386.3h1.1v1.1h-1.1zM75.2 339.3h1.1v1.1h-1.1zM32.7 310.6h1.1v1.1h-1.1zM31.9 312.1h1.1v1.1h-1.1zM44.0 312.4h1.1v1.1h-1.1zM73.5 317.6h1.1v1.1h-1.1zM76.4 320.3h1.1v1.1h-1.1zM71.9 325.3h1.1v1.1h-1.1zM67.1 299.9h1.1v1.1h-1.1zM25.2 334.4h1.1v1.1h-1.1zM72.1 318.8h1.1v1.1h-1.1zM25.7 348.8h1.1v1.1h-1.1zM49.0 375.1h1.1v1.1h-1.1zM63.9 360.7h1.1v1.1h-1.1zM75.3 334.8h1.1v1.1h-1.1zM66.7 358.1h1.1v1.1h-1.1zM52.8 307.5h1.1v1.1h-1.1zM59.2 375.0h1.1v1.1h-1.1zM31.9 378.6h1.1v1.1h-1.1zM30.8 366.5h1.1v1.1h-1.1zM67.2 356.3h1.1v1.1h-1.1zM52.8 375.7h1.1v1.1h-1.1zM33.4 367.8h1.1v1.1h-1.1zM28.4 367.3h1.1v1.1h-1.1zM27.4 315.9h1.1v1.1h-1.1zM34.8 379.1h1.1v1.1h-1.1zM54.1 304.0h1.1v1.1h-1.1zM70.9 350.5h1.1v1.1h-1.1zM74.3 323.7h1.1v1.1h-1.1zM27.6 346.1h1.1v1.1h-1.1zM22.4 354.1h1.1v1.1h-1.1zM71.7 347.7h1.1v1.1h-1.1zM72.6 312.6h1.1v1.1h-1.1zM71.9 325.2h1.1v1.1h-1.1zM43.1 375.9h1.1v1.1h-1.1zM35.3 370.4h1.1v1.1h-1.1zM23.3 320.1h1.1v1.1h-1.1zM32.6 312.7h1.1v1.1h-1.1zM26.1 360.5h1.1v1.1h-1.1zM36.4 313.2h1.1v1.1h-1.1zM29.9 371.3h1.1v1.1h-1.1zM34.0 368.7h1.1v1.1h-1.1zM20.3 323.3h1.1v1.1h-1.1zM68.9 356.1h1.1v1.1h-1.1zM63.1 297.1h1.1v1.1h-1.1zM37.3 313.2h1.1v1.1h-1.1zM22.6 354.6h1.1v1.1h-1.1zM37.8 374.5h1.1v1.1h-1.1zM75.3 320.5h1.1v1.1h-1.1zM74.8 301.1h1.1v1.1h-1.1zM27.2 328.7h1.1v1.1h-1.1zM58.1 304.3h1.1v1.1h-1.1zM72.4 338.8h1.1v1.1h-1.1zM68.8 349.9h1.1v1.1h-1.1zM28.3 329.6h1.1v1.1h-1.1zM24.7 310.2h1.1v1.1h-1.1zM42.9 375.3h1.1v1.1h-1.1zM27.2 365.6h1.1v1.1h-1.1zM27.3 349.2h1.1v1.1h-1.1zM26.9 320.5h1.1v1.1h-1.1zM66.0 360.4h1.1v1.1h-1.1zM58.6 371.4h1.1v1.1h-1.1zM28.3 338.7h1.1v1.1h-1.1zM64.8 357.9h1.1v1.1h-1.1zM60.6 304.6h1.1v1.1h-1.1zM63.0 361.9h1.1v1.1h-1.1zM71.1 343.4h1.1v1.1h-1.1zM74.7 328.5h1.1v1.1h-1.1zM51.7 372.5h1.1v1.1h-1.1zM73.3 351.4h1.1v1.1h-1.1zM27.2 344.9h1.1v1.1h-1.1zM72.1 328.5h1.1v1.1h-1.1zM72.1 347.6h1.1v1.1h-1.1zM53.1 372.3h1.1v1.1h-1.1zM73.6 302.3h1.1v1.1h-1.1zM57.7 304.8h1.1v1.1h-1.1zM25.6 372.9h1.1v1.1h-1.1zM50.5 379.4h1.1v1.1h-1.1zM56.5 305.9h1.1v1.1h-1.1zM27.8 352.5h1.1v1.1h-1.1zM37.9 306.9h1.1v1.1h-1.1zM72.3 323.9h1.1v1.1h-1.1zM36.6 384.8h1.1v1.1h-1.1zM31.7 367.5h1.1v1.1h-1.1zM49.8 302.4h1.1v1.1h-1.1zM26.9 359.9h1.1v1.1h-1.1zM26.2 314.4h1.1v1.1h-1.1zM57.0 301.9h1.1v1.1h-1.1zM31.7 366.0h1.1v1.1h-1.1zM25.6 309.8h1.1v1.1h-1.1zM28.1 323.2h1.1v1.1h-1.1zM31.4 301.9h1.1v1.1h-1.1zM27.6 315.2h1.1v1.1h-1.1zM42.5 309.3h1.1v1.1h-1.1zM34.1 370.3h1.1v1.1h-1.1zM48.1 375.3h1.1v1.1h-1.1zM25.3 316.8h1.1v1.1h-1.1zM72.7 345.5h1.1v1.1h-1.1zM36.4 370.8h1.1v1.1h-1.1zM75.6 304.4h1.1v1.1h-1.1zM76.7 307.0h1.1v1.1h-1.1zM74.3 326.2h1.1v1.1h-1.1zM27.9 335.8h1.1v1.1h-1.1zM27.8 316.5h1.1v1.1h-1.1zM74.5 329.2h1.1v1.1h-1.1zM39.6 378.4h1.1v1.1h-1.1zM65.1 356.9h1.1v1.1h-1.1zM66.8 302.9h1.1v1.1h-1.1zM73.2 306.3h1.1v1.1h-1.1zM33.3 375.5h1.1v1.1h-1.1zM66.8 363.1h1.1v1.1h-1.1zM41.4 375.2h1.1v1.1h-1.1zM71.5 338.0h1.1v1.1h-1.1zM24.8 347.6h1.1v1.1h-1.1zM53.0 304.8h1.1v1.1h-1.1zM40.3 373.9h1.1v1.1h-1.1zM29.0 312.5h1.1v1.1h-1.1zM36.3 313.3h1.1v1.1h-1.1zM34.4 305.5h1.1v1.1h-1.1zM60.2 364.8h1.1v1.1h-1.1zM71.8 358.3h1.1v1.1h-1.1zM39.7 313.7h1.1v1.1h-1.1zM56.4 373.4h1.1v1.1h-1.1zM42.7 376.0h1.1v1.1h-1.1zM67.4 359.8h1.1v1.1h-1.1zM73.7 346.0h1.1v1.1h-1.1zM22.2 349.5h1.1v1.1h-1.1zM29.1 369.1h1.1v1.1h-1.1zM31.2 302.4h1.1v1.1h-1.1zM27.8 352.3h1.1v1.1h-1.1zM26.6 324.1h1.1v1.1h-1.1zM68.7 301.7h1.1v1.1h-1.1zM44.4 377.7h1.1v1.1h-1.1zM38.3 311.7h1.1v1.1h-1.1zM52.7 308.3h1.1v1.1h-1.1zM75.4 338.2h1.1v1.1h-1.1zM22.4 359.9h1.1v1.1h-1.1zM29.1 312.0h1.1v1.1h-1.1zM29.9 312.3h1.1v1.1h-1.1zM53.5 300.2h1.1v1.1h-1.1zM28.1 360.4h1.1v1.1h-1.1zM25.4 347.4h1.1v1.1h-1.1zM72.7 346.5h1.1v1.1h-1.1zM77.3 318.8h1.1v1.1h-1.1zM59.5 364.9h1.1v1.1h-1.1zM38.6 375.0h1.1v1.1h-1.1zM76.0 324.9h1.1v1.1h-1.1zM24.6 319.0h1.1v1.1h-1.1zM25.4 338.5h1.1v1.1h-1.1zM67.2 354.3h1.1v1.1h-1.1zM22.2 332.9h1.1v1.1h-1.1zM72.0 355.4h1.1v1.1h-1.1zM28.2 360.7h1.1v1.1h-1.1zM74.1 305.8h1.1v1.1h-1.1zM72.3 323.2h1.1v1.1h-1.1zM72.8 313.8h1.1v1.1h-1.1zM26.7 342.0h1.1v1.1h-1.1zM27.3 315.5h1.1v1.1h-1.1zM71.6 303.3h1.1v1.1h-1.1zM46.4 306.4h1.1v1.1h-1.1zM26.7 312.5h1.1v1.1h-1.1zM21.4 370.7h1.1v1.1h-1.1zM46.1 305.9h1.1v1.1h-1.1zM46.7 311.9h1.1v1.1h-1.1zM55.6 305.4h1.1v1.1h-1.1zM23.0 318.1h1.1v1.1h-1.1zM69.3 351.3h1.1v1.1h-1.1zM71.7 347.8h1.1v1.1h-1.1zM32.0 368.3h1.1v1.1h-1.1zM73.1 354.0h1.1v1.1h-1.1zM72.2 336.1h1.1v1.1h-1.1zM55.4 369.0h1.1v1.1h-1.1zM61.3 362.3h1.1v1.1h-1.1zM25.4 318.3h1.1v1.1h-1.1zM62.0 304.1h1.1v1.1h-1.1zM42.2 382.3h1.1v1.1h-1.1zM49.5 298.2h1.1v1.1h-1.1zM69.4 350.5h1.1v1.1h-1.1zM25.4 353.7h1.1v1.1h-1.1zM75.9 309.5h1.1v1.1h-1.1zM43.1 310.7h1.1v1.1h-1.1zM45.6 310.9h1.1v1.1h-1.1zM44.7 378.6h1.1v1.1h-1.1zM26.3 332.3h1.1v1.1h-1.1zM75.2 322.9h1.1v1.1h-1.1zM25.2 318.6h1.1v1.1h-1.1zM63.6 301.8h1.1v1.1h-1.1zM27.9 342.5h1.1v1.1h-1.1zM19.2 350.1h1.1v1.1h-1.1zM32.4 374.9h1.1v1.1h-1.1zM73.0 343.2h1.1v1.1h-1.1zM72.8 325.8h1.1v1.1h-1.1zM62.0 363.5h1.1v1.1h-1.1zM46.7 385.2h1.1v1.1h-1.1zM61.9 361.4h1.1v1.1h-1.1zM37.8 373.9h1.1v1.1h-1.1zM28.1 343.6h1.1v1.1h-1.1zM43.5 376.7h1.1v1.1h-1.1zM69.1 357.1h1.1v1.1h-1.1zM76.8 344.7h1.1v1.1h-1.1zM51.7 371.8h1.1v1.1h-1.1zM73.8 309.4h1.1v1.1h-1.1zM74.0 309.9h1.1v1.1h-1.1zM24.1 317.0h1.1v1.1h-1.1zM18.9 299.3h1.1v1.1h-1.1zM24.6 337.1h1.1v1.1h-1.1zM35.8 311.4h1.1v1.1h-1.1zM37.1 374.6h1.1v1.1h-1.1zM28.1 325.0h1.1v1.1h-1.1zM26.4 326.5h1.1v1.1h-1.1zM28.0 339.8h1.1v1.1h-1.1zM65.5 372.2h1.1v1.1h-1.1zM72.2 310.3h1.1v1.1h-1.1zM41.1 377.2h1.1v1.1h-1.1zM24.0 328.8h1.1v1.1h-1.1zM71.2 357.7h1.1v1.1h-1.1zM68.5 352.5h1.1v1.1h-1.1zM74.6 322.2h1.1v1.1h-1.1zM61.3 369.0h1.1v1.1h-1.1zM58.1 297.4h1.1v1.1h-1.1zM45.6 375.9h1.1v1.1h-1.1zM71.8 315.6h1.1v1.1h-1.1zM36.5 373.2h1.1v1.1h-1.1zM74.0 300.9h1.1v1.1h-1.1zM63.3 360.6h1.1v1.1h-1.1zM27.7 333.0h1.1v1.1h-1.1zM28.3 351.1h1.1v1.1h-1.1zM54.2 294.3h1.1v1.1h-1.1zM21.3 314.5h1.1v1.1h-1.1zM66.5 367.9h1.1v1.1h-1.1zM43.7 376.6h1.1v1.1h-1.1zM76.5 309.4h1.1v1.1h-1.1zM47.1 310.1h1.1v1.1h-1.1zM75.6 329.8h1.1v1.1h-1.1zM71.8 319.2h1.1v1.1h-1.1zM72.2 301.5h1.1v1.1h-1.1zM26.5 351.3h1.1v1.1h-1.1zM25.7 339.8h1.1v1.1h-1.1zM55.5 305.7h1.1v1.1h-1.1zM21.6 315.7h1.1v1.1h-1.1zM42.7 311.0h1.1v1.1h-1.1zM74.3 328.2h1.1v1.1h-1.1zM26.2 360.7h1.1v1.1h-1.1zM26.1 345.5h1.1v1.1h-1.1zM77.8 336.0h1.1v1.1h-1.1zM50.7 307.9h1.1v1.1h-1.1zM25.1 347.6h1.1v1.1h-1.1zM72.2 343.4h1.1v1.1h-1.1zM76.7 307.9h1.1v1.1h-1.1zM57.0 367.9h1.1v1.1h-1.1zM73.2 304.7h1.1v1.1h-1.1zM73.5 306.0h1.1v1.1h-1.1zM59.0 372.3h1.1v1.1h-1.1zM27.4 334.6h1.1v1.1h-1.1zM26.1 321.7h1.1v1.1h-1.1zM28.4 372.4h1.1v1.1h-1.1zM36.0 374.0h1.1v1.1h-1.1zM65.1 357.5h1.1v1.1h-1.1zM48.3 311.5h1.1v1.1h-1.1zM41.7 375.2h1.1v1.1h-1.1zM24.9 354.5h1.1v1.1h-1.1zM26.9 335.5h1.1v1.1h-1.1zM39.3 310.5h1.1v1.1h-1.1zM72.5 367.4h1.1v1.1h-1.1zM31.7 366.8h1.1v1.1h-1.1zM73.4 344.9h1.1v1.1h-1.1zM24.6 311.1h1.1v1.1h-1.1zM31.1 365.9h1.1v1.1h-1.1zM73.2 308.1h1.1v1.1h-1.1zM72.9 320.2h1.1v1.1h-1.1zM57.3 305.4h1.1v1.1h-1.1zM54.7 302.7h1.1v1.1h-1.1zM72.6 306.7h1.1v1.1h-1.1zM27.1 321.7h1.1v1.1h-1.1zM28.8 363.8h1.1v1.1h-1.1zM50.2 373.3h1.1v1.1h-1.1zM60.3 365.3h1.1v1.1h-1.1zM28.1 336.0h1.1v1.1h-1.1zM20.3 357.1h1.1v1.1h-1.1zM60.1 365.6h1.1v1.1h-1.1zM72.4 313.2h1.1v1.1h-1.1zM26.0 352.0h1.1v1.1h-1.1zM69.9 349.9h1.1v1.1h-1.1zM54.3 308.4h1.1v1.1h-1.1zM23.5 344.5h1.1v1.1h-1.1zM46.8 311.2h1.1v1.1h-1.1zM74.4 347.6h1.1v1.1h-1.1zM55.6 368.3h1.1v1.1h-1.1zM29.6 365.8h1.1v1.1h-1.1zM23.1 346.2h1.1v1.1h-1.1zM64.2 368.3h1.1v1.1h-1.1zM62.7 364.4h1.1v1.1h-1.1zM50.5 377.3h1.1v1.1h-1.1zM74.5 299.6h1.1v1.1h-1.1zM26.5 333.2h1.1v1.1h-1.1zM39.6 313.3h1.1v1.1h-1.1zM76.6 347.7h1.1v1.1h-1.1zM71.9 340.6h1.1v1.1h-1.1zM52.9 372.3h1.1v1.1h-1.1zM25.0 347.6h1.1v1.1h-1.1zM28.6 364.6h1.1v1.1h-1.1zM27.3 336.3h1.1v1.1h-1.1zM63.2 302.7h1.1v1.1h-1.1zM72.2 330.3h1.1v1.1h-1.1zM28.2 335.1h1.1v1.1h-1.1zM77.4 325.2h1.1v1.1h-1.1zM73.1 314.4h1.1v1.1h-1.1zM73.0 320.6h1.1v1.1h-1.1zM33.1 312.7h1.1v1.1h-1.1zM27.8 307.6h1.1v1.1h-1.1zM27.9 335.8h1.1v1.1h-1.1zM25.0 310.2h1.1v1.1h-1.1zM24.6 317.2h1.1v1.1h-1.1zM39.3 313.6h1.1v1.1h-1.1zM74.4 303.2h1.1v1.1h-1.1zM32.0 305.9h1.1v1.1h-1.1zM34.7 313.0h1.1v1.1h-1.1zM22.2 349.0h1.1v1.1h-1.1zM67.2 301.5h1.1v1.1h-1.1zM53.1 373.3h1.1v1.1h-1.1zM47.7 311.6h1.1v1.1h-1.1zM64.8 301.8h1.1v1.1h-1.1zM26.8 338.7h1.1v1.1h-1.1zM29.1 365.8h1.1v1.1h-1.1zM72.1 337.7h1.1v1.1h-1.1zM58.4 367.5h1.1v1.1h-1.1zM32.7 370.1h1.1v1.1h-1.1zM24.3 332.8h1.1v1.1h-1.1zM69.9 353.3h1.1v1.1h-1.1zM23.7 328.5h1.1v1.1h-1.1zM65.5 302.0h1.1v1.1h-1.1zM51.8 373.0h1.1v1.1h-1.1zM28.3 367.5h1.1v1.1h-1.1zM21.7 347.1h1.1v1.1h-1.1zM64.4 300.1h1.1v1.1h-1.1zM38.9 383.2h1.1v1.1h-1.1zM59.3 364.3h1.1v1.1h-1.1zM48.5 378.6h1.1v1.1h-1.1zM71.9 337.2h1.1v1.1h-1.1zM27.0 315.6h1.1v1.1h-1.1zM45.6 311.1h1.1v1.1h-1.1zM74.1 341.1h1.1v1.1h-1.1zM70.6 303.0h1.1v1.1h-1.1zM25.5 367.2h1.1v1.1h-1.1zM34.8 369.1h1.1v1.1h-1.1zM26.1 327.7h1.1v1.1h-1.1zM73.6 320.8h1.1v1.1h-1.1zM42.2 303.5h1.1v1.1h-1.1zM43.9 383.4h1.1v1.1h-1.1zM59.1 366.3h1.1v1.1h-1.1zM26.2 342.3h1.1v1.1h-1.1zM52.1 388.7h1.1v1.1h-1.1zM63.7 358.9h1.1v1.1h-1.1zM27.3 360.4h1.1v1.1h-1.1zM56.4 374.5h1.1v1.1h-1.1zM58.2 304.4h1.1v1.1h-1.1zM47.5 311.8h1.1v1.1h-1.1zM33.7 368.2h1.1v1.1h-1.1zM69.0 302.6h1.1v1.1h-1.1zM71.9 362.1h1.1v1.1h-1.1zM77.1 319.8h1.1v1.1h-1.1zM71.7 341.6h1.1v1.1h-1.1zM60.2 300.5h1.1v1.1h-1.1zM45.5 377.7h1.1v1.1h-1.1zM61.2 362.5h1.1v1.1h-1.1zM76.9 318.6h1.1v1.1h-1.1zM59.4 370.0h1.1v1.1h-1.1zM50.2 375.5h1.1v1.1h-1.1zM49.2 374.1h1.1v1.1h-1.1zM71.7 340.4h1.1v1.1h-1.1zM63.5 365.3h1.1v1.1h-1.1zM71.4 343.0h1.1v1.1h-1.1zM25.6 352.7h1.1v1.1h-1.1zM23.5 325.7h1.1v1.1h-1.1zM27.8 313.9h1.1v1.1h-1.1zM72.7 338.2h1.1v1.1h-1.1zM25.6 329.5h1.1v1.1h-1.1zM28.3 326.5h1.1v1.1h-1.1zM75.2 329.3h1.1v1.1h-1.1zM26.5 350.4h1.1v1.1h-1.1zM72.0 336.2h1.1v1.1h-1.1zM33.2 374.9h1.1v1.1h-1.1zM33.3 312.1h1.1v1.1h-1.1zM24.6 335.1h1.1v1.1h-1.1zM66.5 294.9h1.1v1.1h-1.1zM27.9 341.5h1.1v1.1h-1.1zM67.7 352.7h1.1v1.1h-1.1zM28.0 321.2h1.1v1.1h-1.1zM26.4 359.6h1.1v1.1h-1.1zM42.5 297.4h1.1v1.1h-1.1zM27.2 338.3h1.1v1.1h-1.1zM34.9 369.2h1.1v1.1h-1.1zM22.5 313.9h1.1v1.1h-1.1zM29.9 367.0h1.1v1.1h-1.1zM40.3 374.8h1.1v1.1h-1.1zM30.7 371.8h1.1v1.1h-1.1zM33.6 370.2h1.1v1.1h-1.1zM52.0 308.8h1.1v1.1h-1.1zM45.0 380.9h1.1v1.1h-1.1zM52.7 382.1h1.1v1.1h-1.1zM36.8 312.2h1.1v1.1h-1.1zM72.0 342.6h1.1v1.1h-1.1zM27.6 351.9h1.1v1.1h-1.1zM24.8 319.9h1.1v1.1h-1.1zM61.0 365.0h1.1v1.1h-1.1zM22.4 362.8h1.1v1.1h-1.1zM29.5 365.2h1.1v1.1h-1.1zM32.3 312.0h1.1v1.1h-1.1zM29.3 365.0h1.1v1.1h-1.1zM32.4 370.5h1.1v1.1h-1.1zM72.7 315.2h1.1v1.1h-1.1zM22.2 330.4h1.1v1.1h-1.1zM59.0 301.4h1.1v1.1h-1.1zM44.7 377.0h1.1v1.1h-1.1zM29.1 310.9h1.1v1.1h-1.1zM59.6 303.9h1.1v1.1h-1.1zM26.6 344.5h1.1v1.1h-1.1zM76.9 329.4h1.1v1.1h-1.1zM25.7 357.4h1.1v1.1h-1.1zM73.3 335.1h1.1v1.1h-1.1zM62.2 361.9h1.1v1.1h-1.1zM50.5 309.7h1.1v1.1h-1.1zM28.1 344.9h1.1v1.1h-1.1zM72.7 302.8h1.1v1.1h-1.1zM29.9 311.5h1.1v1.1h-1.1zM72.9 313.8h1.1v1.1h-1.1zM57.7 380.1h1.1v1.1h-1.1zM46.7 377.6h1.1v1.1h-1.1zM60.2 304.5h1.1v1.1h-1.1zM77.5 331.5h1.1v1.1h-1.1zM46.4 312.1h1.1v1.1h-1.1zM64.1 361.0h1.1v1.1h-1.1zM56.5 374.0h1.1v1.1h-1.1zM36.3 309.5h1.1v1.1h-1.1zM56.2 375.7h1.1v1.1h-1.1zM54.0 381.2h1.1v1.1h-1.1zM23.2 317.4h1.1v1.1h-1.1zM26.2 370.8h1.1v1.1h-1.1zM56.4 306.3h1.1v1.1h-1.1zM60.5 363.0h1.1v1.1h-1.1zM26.6 365.5h1.1v1.1h-1.1zM60.5 365.3h1.1v1.1h-1.1zM75.3 320.4h1.1v1.1h-1.1zM71.9 329.9h1.1v1.1h-1.1zM71.6 336.2h1.1v1.1h-1.1zM39.8 313.6h1.1v1.1h-1.1zM47.5 380.4h1.1v1.1h-1.1zM27.9 312.5h1.1v1.1h-1.1zM74.5 324.1h1.1v1.1h-1.1zM72.9 311.9h1.1v1.1h-1.1zM37.5 371.6h1.1v1.1h-1.1zM19.2 326.4h1.1v1.1h-1.1zM73.3 330.8h1.1v1.1h-1.1zM43.0 297.7h1.1v1.1h-1.1zM25.5 337.7h1.1v1.1h-1.1zM40.6 376.1h1.1v1.1h-1.1zM46.6 378.5h1.1v1.1h-1.1zM28.3 314.4h1.1v1.1h-1.1zM39.9 381.7h1.1v1.1h-1.1zM21.3 348.5h1.1v1.1h-1.1zM59.8 368.8h1.1v1.1h-1.1zM50.8 381.2h1.1v1.1h-1.1zM72.4 325.8h1.1v1.1h-1.1zM77.6 314.1h1.1v1.1h-1.1zM40.0 375.6h1.1v1.1h-1.1zM71.7 317.6h1.1v1.1h-1.1zM21.6 359.9h1.1v1.1h-1.1zM57.0 304.6h1.1v1.1h-1.1zM76.9 337.1h1.1v1.1h-1.1zM69.8 351.8h1.1v1.1h-1.1zM27.5 315.5h1.1v1.1h-1.1zM72.0 317.3h1.1v1.1h-1.1zM70.3 300.5h1.1v1.1h-1.1zM51.5 309.9h1.1v1.1h-1.1zM57.9 301.9h1.1v1.1h-1.1zM54.4 306.3h1.1v1.1h-1.1zM45.2 380.9h1.1v1.1h-1.1zM73.5 305.2h1.1v1.1h-1.1zM65.4 303.0h1.1v1.1h-1.1zM75.7 364.3h1.1v1.1h-1.1zM27.4 342.9h1.1v1.1h-1.1zM46.9 376.6h1.1v1.1h-1.1zM73.7 347.3h1.1v1.1h-1.1zM53.3 308.3h1.1v1.1h-1.1zM44.8 312.2h1.1v1.1h-1.1zM28.0 322.4h1.1v1.1h-1.1zM68.1 358.9h1.1v1.1h-1.1zM62.6 368.1h1.1v1.1h-1.1zM63.8 301.7h1.1v1.1h-1.1zM68.6 293.1h1.1v1.1h-1.1zM65.2 359.4h1.1v1.1h-1.1zM28.0 353.1h1.1v1.1h-1.1zM71.0 362.2h1.1v1.1h-1.1zM58.9 379.3h1.1v1.1h-1.1zM26.1 322.8h1.1v1.1h-1.1zM70.9 350.4h1.1v1.1h-1.1zM22.9 310.0h1.1v1.1h-1.1zM67.3 353.2h1.1v1.1h-1.1zM70.4 360.0h1.1v1.1h-1.1zM69.4 359.1h1.1v1.1h-1.1zM34.4 313.0h1.1v1.1h-1.1zM53.1 375.9h1.1v1.1h-1.1zM66.6 355.8h1.1v1.1h-1.1zM28.2 335.2h1.1v1.1h-1.1zM71.7 309.0h1.1v1.1h-1.1zM56.2 369.7h1.1v1.1h-1.1zM61.7 299.4h1.1v1.1h-1.1zM71.4 338.8h1.1v1.1h-1.1zM28.5 361.7h1.1v1.1h-1.1zM59.1 304.6h1.1v1.1h-1.1zM48.8 301.5h1.1v1.1h-1.1zM68.9 350.9h1.1v1.1h-1.1zM71.9 328.7h1.1v1.1h-1.1zM38.6 373.0h1.1v1.1h-1.1zM25.7 345.4h1.1v1.1h-1.1zM73.0 323.1h1.1v1.1h-1.1zM74.2 304.8h1.1v1.1h-1.1zM31.4 366.0h1.1v1.1h-1.1zM72.1 355.5h1.1v1.1h-1.1zM25.5 357.6h1.1v1.1h-1.1zM22.0 349.2h1.1v1.1h-1.1zM30.7 306.7h1.1v1.1h-1.1zM27.9 362.1h1.1v1.1h-1.1zM26.6 351.8h1.1v1.1h-1.1zM28.4 366.9h1.1v1.1h-1.1zM52.8 372.3h1.1v1.1h-1.1zM43.9 310.8h1.1v1.1h-1.1zM27.2 323.6h1.1v1.1h-1.1zM55.5 302.6h1.1v1.1h-1.1zM72.5 318.7h1.1v1.1h-1.1zM33.9 369.8h1.1v1.1h-1.1zM70.1 347.7h1.1v1.1h-1.1zM34.3 310.4h1.1v1.1h-1.1zM72.5 313.1h1.1v1.1h-1.1zM35.1 378.3h1.1v1.1h-1.1zM73.3 308.5h1.1v1.1h-1.1zM25.2 341.1h1.1v1.1h-1.1zM76.9 333.0h1.1v1.1h-1.1zM62.6 360.7h1.1v1.1h-1.1zM28.1 347.9h1.1v1.1h-1.1zM56.9 375.6h1.1v1.1h-1.1zM59.1 304.5h1.1v1.1h-1.1zM32.4 311.3h1.1v1.1h-1.1zM26.9 334.3h1.1v1.1h-1.1zM27.7 341.3h1.1v1.1h-1.1zM58.1 371.9h1.1v1.1h-1.1zM31.7 371.1h1.1v1.1h-1.1zM69.6 348.4h1.1v1.1h-1.1zM56.9 374.2h1.1v1.1h-1.1zM74.7 341.2h1.1v1.1h-1.1zM35.4 301.2h1.1v1.1h-1.1zM36.7 311.8h1.1v1.1h-1.1zM75.7 325.8h1.1v1.1h-1.1zM21.4 360.9h1.1v1.1h-1.1zM22.3 330.3h1.1v1.1h-1.1zM43.3 380.4h1.1v1.1h-1.1zM31.3 303.8h1.1v1.1h-1.1zM34.8 311.5h1.1v1.1h-1.1zM76.9 314.4h1.1v1.1h-1.1zM76.4 312.8h1.1v1.1h-1.1zM25.9 341.1h1.1v1.1h-1.1zM67.5 367.5h1.1v1.1h-1.1zM24.7 338.6h1.1v1.1h-1.1zM73.6 311.8h1.1v1.1h-1.1zM27.6 328.7h1.1v1.1h-1.1zM77.5 302.3h1.1v1.1h-1.1zM27.2 339.7h1.1v1.1h-1.1zM26.8 357.9h1.1v1.1h-1.1zM26.5 349.8h1.1v1.1h-1.1zM26.4 319.9h1.1v1.1h-1.1zM41.3 311.3h1.1v1.1h-1.1zM72.5 306.1h1.1v1.1h-1.1zM74.1 333.3h1.1v1.1h-1.1zM22.0 341.8h1.1v1.1h-1.1zM73.1 325.2h1.1v1.1h-1.1zM51.2 310.1h1.1v1.1h-1.1zM42.8 309.3h1.1v1.1h-1.1zM20.2 327.1h1.1v1.1h-1.1zM71.7 340.0h1.1v1.1h-1.1zM36.7 310.6h1.1v1.1h-1.1zM21.4 349.3h1.1v1.1h-1.1zM36.7 370.8h1.1v1.1h-1.1zM69.6 303.5h1.1v1.1h-1.1zM72.3 316.2h1.1v1.1h-1.1zM69.3 348.1h1.1v1.1h-1.1zM75.2 314.3h1.1v1.1h-1.1zM73.3 321.0h1.1v1.1h-1.1zM24.7 323.1h1.1v1.1h-1.1zM61.0 369.0h1.1v1.1h-1.1zM28.3 366.3h1.1v1.1h-1.1zM77.5 346.2h1.1v1.1h-1.1zM44.2 310.6h1.1v1.1h-1.1zM34.1 308.4h1.1v1.1h-1.1zM33.6 312.0h1.1v1.1h-1.1zM26.4 333.6h1.1v1.1h-1.1zM48.7 383.5h1.1v1.1h-1.1z" fill="#2020e6" opacity="0.8"/>
<path d="M28.3,312.5 L33.0,313.0 L40.0,314.0 L46.0,313.0 L51.0,310.5 L56.0,307.5 L60.0,305.0 L64.0,303.3 L68.0,303.0 L71.6,304.5 L71.8,330.0 L71.0,343.0 L68.0,352.0 L63.0,360.0 L57.0,367.0 L50.0,373.0 L45.0,376.0 L40.0,373.5 L35.0,369.0 L30.0,364.0 L28.3,361.0Z" fill="#1016f0" filter="url(#b05)"/>
<path d="M31.7 363.0h1v1h-1zM71.2 319.8h1v1h-1zM30.9 335.2h1v1h-1zM28.5 340.1h1v1h-1zM28.7 342.7h1v1h-1zM30.9 363.8h1v1h-1zM54.6 367.2h1v1h-1zM69.2 334.6h1v1h-1zM61.6 356.2h1v1h-1zM29.0 361.1h1v1h-1zM28.9 358.0h1v1h-1zM28.6 352.0h1v1h-1zM44.5 313.6h1v1h-1zM71.6 322.3h1v1h-1zM71.7 316.5h1v1h-1zM70.8 322.4h1v1h-1zM71.7 315.0h1v1h-1zM28.6 354.7h1v1h-1zM40.8 315.5h1v1h-1zM56.5 307.6h1v1h-1zM29.5 314.3h1v1h-1zM51.6 371.5h1v1h-1zM52.3 369.7h1v1h-1zM58.5 306.2h1v1h-1zM32.8 316.1h1v1h-1zM67.7 347.1h1v1h-1zM44.8 375.3h1v1h-1zM46.2 313.3h1v1h-1zM71.4 317.7h1v1h-1zM69.7 316.1h1v1h-1zM50.3 372.6h1v1h-1zM57.5 362.8h1v1h-1zM33.1 313.5h1v1h-1zM60.5 306.7h1v1h-1zM68.7 336.9h1v1h-1zM63.6 304.5h1v1h-1zM39.9 373.0h1v1h-1zM60.7 362.0h1v1h-1zM63.7 358.4h1v1h-1zM69.9 304.4h1v1h-1zM43.0 374.9h1v1h-1zM61.8 361.2h1v1h-1zM66.7 353.5h1v1h-1zM30.8 364.3h1v1h-1zM50.8 369.6h1v1h-1zM56.6 307.9h1v1h-1zM29.1 342.5h1v1h-1zM30.3 327.2h1v1h-1zM71.6 333.0h1v1h-1zM69.3 319.9h1v1h-1zM71.0 334.5h1v1h-1zM32.2 365.8h1v1h-1zM59.9 363.1h1v1h-1zM71.1 329.8h1v1h-1zM28.4 334.0h1v1h-1zM60.5 362.9h1v1h-1zM60.2 361.7h1v1h-1zM63.7 358.5h1v1h-1zM60.0 363.4h1v1h-1zM68.2 304.4h1v1h-1zM71.1 336.7h1v1h-1zM29.5 342.9h1v1h-1zM68.0 303.2h1v1h-1zM69.7 303.8h1v1h-1zM39.4 314.8h1v1h-1zM60.8 359.6h1v1h-1zM39.7 315.5h1v1h-1zM30.5 353.7h1v1h-1zM42.7 313.8h1v1h-1zM51.9 369.2h1v1h-1zM61.1 305.2h1v1h-1zM69.8 332.9h1v1h-1zM62.4 359.9h1v1h-1zM28.7 317.4h1v1h-1zM53.2 368.7h1v1h-1zM42.8 314.4h1v1h-1zM66.9 305.5h1v1h-1zM35.5 313.5h1v1h-1zM41.0 314.1h1v1h-1zM37.6 371.1h1v1h-1zM29.3 353.4h1v1h-1zM45.0 314.9h1v1h-1zM31.5 344.6h1v1h-1zM28.5 346.7h1v1h-1zM29.7 324.0h1v1h-1zM52.5 367.0h1v1h-1zM28.7 337.8h1v1h-1zM29.9 322.5h1v1h-1zM62.3 357.8h1v1h-1zM69.3 333.7h1v1h-1zM71.0 305.5h1v1h-1zM49.8 312.3h1v1h-1zM52.0 371.0h1v1h-1zM28.4 359.8h1v1h-1zM54.4 308.8h1v1h-1zM31.4 362.7h1v1h-1zM65.4 354.8h1v1h-1zM29.1 347.9h1v1h-1zM71.5 313.2h1v1h-1zM53.0 369.8h1v1h-1zM58.4 364.9h1v1h-1zM70.2 304.1h1v1h-1zM70.2 314.9h1v1h-1zM30.2 330.5h1v1h-1zM58.7 305.9h1v1h-1zM65.9 354.0h1v1h-1zM70.2 311.5h1v1h-1zM46.6 374.0h1v1h-1zM50.9 372.1h1v1h-1zM70.9 319.7h1v1h-1zM29.4 313.3h1v1h-1zM29.6 327.4h1v1h-1zM71.0 311.0h1v1h-1zM30.7 347.1h1v1h-1zM67.4 348.8h1v1h-1zM31.3 323.4h1v1h-1zM43.5 375.1h1v1h-1zM29.7 329.9h1v1h-1zM63.3 359.4h1v1h-1zM56.0 366.3h1v1h-1zM69.5 329.6h1v1h-1zM29.7 363.4h1v1h-1zM29.7 356.9h1v1h-1zM59.0 307.2h1v1h-1zM32.3 363.4h1v1h-1zM46.8 312.7h1v1h-1zM67.5 350.8h1v1h-1zM70.3 332.8h1v1h-1zM28.5 354.7h1v1h-1zM57.1 365.8h1v1h-1zM34.2 367.7h1v1h-1zM30.6 364.3h1v1h-1zM34.4 314.7h1v1h-1zM28.4 341.4h1v1h-1zM31.6 345.1h1v1h-1zM62.4 304.5h1v1h-1zM70.7 310.3h1v1h-1zM30.0 344.0h1v1h-1zM70.8 306.9h1v1h-1zM66.7 353.7h1v1h-1zM64.4 356.0h1v1h-1zM28.5 336.1h1v1h-1zM57.7 309.4h1v1h-1zM34.1 314.6h1v1h-1zM55.6 308.1h1v1h-1zM38.9 370.4h1v1h-1zM45.6 375.4h1v1h-1zM71.2 312.1h1v1h-1zM28.4 355.2h1v1h-1zM68.7 313.9h1v1h-1z" fill="#9aa0ff" opacity="0.9"/>
<g filter="url(#b2)"><ellipse cx="53" cy="338" rx="18" ry="28" fill="#1c44ff" transform="rotate(-12 53 338)"/></g>
<g filter="url(#b07)"><path d="M56.5,354.5 L54.2,354.6 L52.0,354.7 L49.8,354.6 L47.8,354.4 L45.8,354.1 L44.0,353.6 L42.3,353.0 L40.8,352.2 L39.5,351.3 L38.5,350.2 L37.8,348.6 L37.7,346.5 L38.3,345.0 L39.2,343.5 L40.2,342.3 L41.4,341.2 L42.7,340.2 L44.0,339.4 L45.5,338.6 L46.9,337.8 L48.2,336.9 L49.5,335.8 L50.4,334.5 L51.0,333.0 L51.5,331.2 L52.0,329.2 L52.4,327.5 L52.8,325.8 L53.3,324.0 L53.9,322.2 L54.5,320.5 L55.1,319.0 L55.8,317.5 L56.6,316.0 L57.6,314.8 L58.9,313.8 L60.6,313.5 L62.0,314.2 L63.1,315.5 L64.0,316.9 L64.7,318.5 L65.2,320.0 L65.8,321.8 L66.2,323.8 L66.5,325.5 L66.8,327.5 L67.0,329.5 L67.2,331.8 L67.3,333.8 L67.4,336.0 L67.7,338.0 L68.2,339.8 L68.7,341.5 L69.0,343.5 L68.7,345.5 L68.0,347.0 L67.0,348.5 L66.0,349.7 L65.0,350.8 L63.8,351.8 L62.4,352.8 L60.9,353.5 L59.2,354.1 L57.2,354.4Z" fill="#1a48ff"/><path d="M52.0,353.0 L50.2,353.0 L48.2,352.9 L46.5,352.6 L45.0,352.2 L43.5,351.7 L42.1,351.0 L41.0,350.1 L40.2,349.0 L39.8,347.2 L40.2,345.6 L41.0,344.4 L42.0,343.3 L43.0,342.5 L44.2,341.6 L45.5,340.9 L46.9,340.2 L48.2,339.6 L49.6,339.0 L50.9,338.2 L52.0,337.4 L52.8,336.2 L53.3,334.8 L53.6,333.0 L53.8,331.2 L54.0,329.2 L54.2,327.5 L54.5,325.8 L54.8,324.2 L55.2,322.5 L55.7,321.0 L56.2,319.6 L56.9,318.2 L57.8,317.0 L58.8,316.0 L60.2,315.6 L61.7,316.2 L62.6,317.2 L63.4,318.5 L64.0,319.9 L64.5,321.4 L64.9,323.0 L65.2,324.6 L65.5,326.2 L65.7,328.2 L65.8,330.0 L65.9,332.0 L65.9,334.0 L65.9,336.0 L66.0,338.0 L66.3,339.5 L66.8,341.0 L67.2,342.8 L67.2,344.4 L66.8,346.0 L66.1,347.2 L65.2,348.3 L64.2,349.3 L63.1,350.2 L61.9,351.0 L60.5,351.6 L59.0,352.1 L57.4,352.5 L55.7,352.8 L53.8,352.9 L52.0,353.0Z" fill="#0a84ff"/><path d="M53.5,352.0 L51.8,352.1 L50.0,352.1 L48.5,352.0 L47.0,351.7 L45.5,351.4 L44.2,350.9 L43.1,350.2 L42.2,349.5 L41.5,348.4 L41.3,346.8 L41.8,345.5 L42.5,344.5 L43.5,343.5 L44.5,342.8 L45.5,342.2 L46.8,341.5 L47.9,341.0 L49.1,340.5 L50.4,340.0 L51.6,339.5 L52.8,338.9 L53.8,338.2 L54.4,337.0 L54.7,335.5 L54.8,334.0 L54.9,332.2 L54.9,330.5 L55.0,329.0 L55.2,327.2 L55.4,325.8 L55.7,324.2 L56.1,323.0 L56.5,321.6 L57.0,320.4 L57.6,319.2 L58.3,318.2 L59.2,317.5 L61.0,317.5 L61.9,318.2 L62.7,319.2 L63.2,320.5 L63.7,321.8 L64.1,323.0 L64.4,324.5 L64.7,326.0 L64.9,327.5 L65.0,329.2 L65.0,330.8 L65.0,332.5 L65.0,334.0 L64.9,335.8 L64.8,337.5 L65.0,339.2 L65.3,340.5 L65.8,341.9 L66.1,343.2 L66.0,344.9 L65.5,346.2 L64.8,347.2 L64.0,348.2 L63.0,349.0 L62.0,349.7 L61.0,350.3 L59.8,350.8 L58.2,351.2 L57.0,351.5 L55.5,351.8 L53.8,352.0Z" fill="#00c8ff"/><path d="M52.8,351.5 L51.0,351.6 L49.5,351.5 L47.8,351.3 L46.5,351.0 L45.0,350.5 L44.0,350.0 L43.0,349.1 L42.3,348.0 L42.3,346.8 L42.8,345.5 L43.5,344.5 L44.5,343.6 L45.5,342.9 L46.6,342.2 L47.8,341.7 L49.0,341.2 L50.2,340.7 L51.7,340.2 L53.0,339.8 L54.1,339.2 L55.0,338.4 L55.5,337.0 L55.6,335.5 L55.6,333.8 L55.6,332.0 L55.6,330.2 L55.7,328.5 L55.9,327.0 L56.1,325.5 L56.4,324.0 L56.8,322.8 L57.2,321.5 L57.9,320.2 L58.6,319.2 L59.8,318.5 L61.0,318.7 L61.9,319.5 L62.5,320.5 L63.1,321.8 L63.5,323.0 L63.9,324.5 L64.1,326.0 L64.3,327.5 L64.5,329.2 L64.5,331.0 L64.4,332.8 L64.3,334.5 L64.2,336.0 L64.1,337.8 L64.2,339.5 L64.5,340.8 L65.0,342.1 L65.3,343.5 L65.2,345.0 L64.7,346.2 L64.0,347.2 L63.0,348.2 L62.0,349.0 L61.0,349.6 L59.8,350.1 L58.5,350.6 L57.0,350.9 L55.5,351.2 L54.0,351.4Z" fill="#00f0d8"/><path d="M52.5,351.0 L50.8,351.0 L49.2,350.9 L47.8,350.7 L46.2,350.3 L45.0,349.8 L44.0,349.0 L43.3,348.0 L43.2,346.5 L43.8,345.4 L44.5,344.5 L45.5,343.7 L46.5,343.0 L47.8,342.4 L49.0,341.8 L50.2,341.4 L51.5,340.9 L53.0,340.5 L54.2,340.1 L55.3,339.5 L56.2,338.5 L56.5,337.0 L56.4,335.2 L56.3,333.5 L56.2,332.0 L56.2,330.2 L56.3,328.8 L56.5,327.0 L56.7,325.5 L57.0,324.2 L57.5,322.8 L58.0,321.6 L58.8,320.5 L59.8,319.8 L61.2,320.2 L62.0,321.1 L62.6,322.2 L63.0,323.5 L63.4,325.0 L63.7,326.5 L63.8,328.0 L63.9,329.8 L63.9,331.5 L63.8,333.2 L63.7,334.8 L63.5,336.2 L63.3,338.0 L63.4,339.8 L63.8,341.1 L64.2,342.5 L64.5,343.8 L64.3,345.2 L63.8,346.4 L63.0,347.4 L62.0,348.2 L61.0,348.9 L59.8,349.5 L58.5,350.0 L57.2,350.3 L55.8,350.6 L54.2,350.9 L52.6,351.0Z" fill="#30f040"/><path d="M54.0,350.3 L52.5,350.4 L51.0,350.4 L49.5,350.3 L48.2,350.1 L47.0,349.8 L46.0,349.3 L45.2,348.8 L44.5,347.8 L44.4,346.5 L44.9,345.5 L45.5,344.7 L46.3,344.0 L47.2,343.4 L48.2,342.9 L49.2,342.4 L50.4,342.0 L51.5,341.7 L52.8,341.3 L54.0,341.0 L55.0,340.7 L56.2,340.2 L57.0,339.8 L57.6,338.8 L57.7,337.2 L57.5,335.9 L57.3,334.5 L57.2,333.2 L57.0,331.8 L57.0,330.2 L57.1,328.8 L57.2,327.2 L57.5,326.0 L57.8,324.8 L58.1,323.8 L58.6,322.8 L59.2,322.0 L60.5,321.6 L61.3,322.2 L61.9,323.2 L62.3,324.2 L62.7,325.5 L62.9,326.8 L63.1,328.0 L63.2,329.5 L63.2,331.0 L63.1,332.5 L63.0,333.8 L62.8,335.1 L62.5,336.3 L62.2,337.5 L62.0,339.0 L62.2,340.4 L62.7,341.5 L63.2,342.5 L63.5,343.8 L63.3,345.2 L62.8,346.2 L62.2,347.0 L61.4,347.8 L60.5,348.3 L59.5,348.8 L58.5,349.2 L57.2,349.6 L56.0,349.9 L54.8,350.2Z" fill="#b0f000"/><path d="M60.2,337.8 L59.8,337.8 L59.5,337.5 L59.3,337.2 L59.1,337.0 L59.0,336.7 L58.8,336.2 L58.7,336.0 L58.5,335.5 L58.4,335.2 L58.3,334.8 L58.2,334.5 L58.1,334.0 L58.0,333.5 L58.0,333.2 L57.9,332.8 L57.9,332.2 L57.8,331.8 L57.8,331.2 L57.8,330.8 L57.8,330.2 L57.8,329.8 L57.8,329.2 L57.8,328.8 L57.9,328.2 L57.9,327.8 L58.0,327.3 L58.1,327.0 L58.2,326.5 L58.2,326.1 L58.4,325.8 L58.5,325.3 L58.6,325.0 L58.8,324.7 L59.0,324.3 L59.2,324.0 L59.4,323.8 L59.8,323.5 L60.0,323.4 L60.5,323.5 L60.8,323.6 L61.0,323.9 L61.2,324.2 L61.4,324.5 L61.6,324.8 L61.8,325.2 L61.8,325.5 L62.0,326.0 L62.1,326.2 L62.2,326.8 L62.2,327.1 L62.3,327.5 L62.4,328.0 L62.4,328.5 L62.5,329.0 L62.5,329.5 L62.5,330.0 L62.5,330.5 L62.5,331.0 L62.4,331.5 L62.4,332.0 L62.3,332.5 L62.3,333.0 L62.2,333.2 L62.1,333.8 L62.0,334.2 L62.0,334.5 L61.8,335.0 L61.8,335.3 L61.6,335.8 L61.5,336.0 L61.3,336.5 L61.1,336.8 L61.0,337.0 L60.8,337.3 L60.5,337.6 L60.2,337.8ZM54.0,349.8 L53.2,349.8 L52.5,349.9 L51.8,349.9 L51.0,349.9 L50.2,349.8 L49.6,349.8 L49.0,349.7 L48.4,349.5 L47.8,349.3 L47.2,349.1 L46.8,348.8 L46.3,348.5 L46.0,348.2 L45.6,347.8 L45.4,347.2 L45.4,346.5 L45.6,346.0 L45.9,345.5 L46.2,345.0 L46.5,344.8 L47.0,344.3 L47.5,344.0 L47.9,343.8 L48.3,343.5 L48.8,343.2 L49.4,343.0 L50.0,342.8 L50.5,342.6 L51.0,342.4 L51.5,342.2 L52.2,342.0 L52.8,341.9 L53.4,341.8 L54.0,341.6 L54.6,341.5 L55.2,341.4 L55.8,341.2 L56.5,341.1 L57.0,340.9 L57.5,340.7 L58.1,340.5 L58.6,340.2 L59.2,340.0 L59.8,339.9 L60.2,340.1 L60.7,340.5 L61.0,340.9 L61.3,341.2 L61.7,341.8 L62.0,342.2 L62.2,342.8 L62.4,343.2 L62.6,343.8 L62.6,344.5 L62.5,345.0 L62.2,345.7 L62.0,346.1 L61.7,346.5 L61.2,347.0 L60.9,347.2 L60.5,347.6 L60.0,347.9 L59.5,348.2 L59.0,348.4 L58.5,348.6 L58.0,348.8 L57.5,349.0 L56.8,349.2 L56.2,349.3 L55.5,349.5 L55.0,349.6 L54.2,349.7Z" fill="#f5f500"/><path d="M60.2,334.3 L60.0,334.3 L59.8,334.2 L59.8,334.2 L59.6,334.0 L59.5,333.9 L59.4,333.8 L59.3,333.5 L59.2,333.5 L59.2,333.2 L59.1,333.0 L59.0,332.8 L59.0,332.8 L58.9,332.5 L58.9,332.2 L58.8,332.0 L58.8,331.8 L58.8,331.5 L58.8,331.5 L58.7,331.2 L58.7,331.0 L58.7,330.8 L58.7,330.5 L58.7,330.2 L58.7,330.0 L58.7,329.8 L58.7,329.5 L58.7,329.2 L58.7,329.0 L58.7,328.8 L58.8,328.6 L58.8,328.5 L58.8,328.2 L58.9,328.0 L58.9,327.8 L59.0,327.5 L59.0,327.4 L59.0,327.2 L59.1,327.0 L59.2,326.8 L59.2,326.7 L59.3,326.5 L59.5,326.2 L59.5,326.2 L59.7,326.0 L59.8,326.0 L60.0,325.8 L60.2,325.8 L60.5,325.9 L60.6,326.0 L60.8,326.2 L60.8,326.2 L61.0,326.5 L61.0,326.6 L61.1,326.8 L61.2,327.0 L61.2,327.2 L61.3,327.2 L61.3,327.5 L61.4,327.8 L61.4,328.0 L61.5,328.2 L61.5,328.3 L61.5,328.5 L61.6,328.8 L61.6,329.0 L61.6,329.2 L61.6,329.5 L61.6,329.8 L61.6,330.0 L61.6,330.2 L61.6,330.5 L61.6,330.8 L61.6,331.0 L61.5,331.2 L61.5,331.5 L61.5,331.6 L61.5,331.8 L61.4,332.0 L61.4,332.2 L61.3,332.5 L61.3,332.8 L61.2,332.8 L61.2,333.0 L61.1,333.2 L61.0,333.5 L61.0,333.5 L60.9,333.8 L60.8,333.9 L60.7,334.0 L60.5,334.2 L60.4,334.2 L60.2,334.3ZM54.0,349.3 L53.2,349.3 L52.5,349.4 L51.8,349.4 L51.0,349.4 L50.2,349.3 L49.8,349.2 L49.0,349.0 L48.5,348.9 L48.0,348.7 L47.5,348.4 L47.0,348.0 L46.8,347.7 L46.5,347.2 L46.4,346.5 L46.6,346.0 L46.9,345.5 L47.2,345.0 L47.6,344.8 L48.0,344.4 L48.5,344.1 L49.0,343.8 L49.5,343.5 L50.0,343.3 L50.5,343.1 L51.0,342.9 L51.6,342.8 L52.2,342.6 L52.8,342.5 L53.5,342.3 L54.0,342.2 L54.8,342.1 L55.2,342.0 L56.0,341.9 L56.8,341.8 L57.2,341.7 L58.0,341.6 L58.8,341.6 L59.5,341.6 L60.0,341.8 L60.5,342.2 L60.9,342.5 L61.2,343.0 L61.5,343.5 L61.6,344.0 L61.6,344.8 L61.5,345.2 L61.2,345.8 L60.9,346.2 L60.5,346.7 L60.2,347.0 L59.8,347.3 L59.2,347.6 L58.8,347.9 L58.2,348.1 L57.8,348.3 L57.2,348.5 L56.5,348.7 L56.0,348.9 L55.4,349.0 L54.8,349.1 L54.0,349.2Z" fill="#ff9a00"/><path d="M54.0,348.8 L53.5,348.8 L53.0,348.9 L52.5,348.9 L52.0,348.9 L51.5,348.9 L51.0,348.9 L50.5,348.8 L50.2,348.8 L49.8,348.6 L49.2,348.5 L49.0,348.4 L48.6,348.2 L48.2,348.0 L48.0,347.8 L47.8,347.6 L47.5,347.2 L47.4,347.0 L47.4,346.5 L47.5,346.0 L47.6,345.8 L47.8,345.5 L48.0,345.2 L48.3,345.0 L48.6,344.8 L48.9,344.5 L49.2,344.3 L49.5,344.1 L49.8,344.0 L50.2,343.8 L50.5,343.7 L50.9,343.5 L51.2,343.4 L51.6,343.2 L52.0,343.1 L52.5,343.0 L52.8,343.0 L53.2,342.8 L53.7,342.8 L54.0,342.7 L54.5,342.6 L55.0,342.6 L55.5,342.5 L55.8,342.5 L56.2,342.4 L56.8,342.4 L57.2,342.4 L57.8,342.4 L58.2,342.4 L58.8,342.5 L59.0,342.6 L59.5,342.7 L59.8,342.9 L60.0,343.1 L60.2,343.3 L60.5,343.7 L60.6,344.0 L60.7,344.5 L60.7,345.0 L60.5,345.5 L60.4,345.8 L60.2,346.0 L60.0,346.2 L59.7,346.5 L59.4,346.8 L59.1,347.0 L58.8,347.2 L58.5,347.4 L58.2,347.5 L57.8,347.8 L57.5,347.9 L57.2,348.0 L56.8,348.1 L56.4,348.2 L56.0,348.4 L55.5,348.5 L55.2,348.6 L54.8,348.7 L54.2,348.7 L54.0,348.8Z" fill="#ff2000"/></g>
</g>
<rect x="27.40" y="285.70" width="116.15" height="115.50" fill="none" stroke="#000" stroke-width="1.7"/>
<line x1="24.00" y1="392.70" x2="27.40" y2="392.70" stroke="#000" stroke-width="1.3" />
<line x1="25.60" y1="387.73" x2="27.40" y2="387.73" stroke="#000" stroke-width="1.1" />
<line x1="25.60" y1="384.83" x2="27.40" y2="384.83" stroke="#000" stroke-width="1.1" />
<line x1="25.60" y1="382.77" x2="27.40" y2="382.77" stroke="#000" stroke-width="1.1" />
<line x1="25.60" y1="381.17" x2="27.40" y2="381.17" stroke="#000" stroke-width="1.1" />
<line x1="25.60" y1="379.86" x2="27.40" y2="379.86" stroke="#000" stroke-width="1.1" />
<line x1="25.60" y1="378.76" x2="27.40" y2="378.76" stroke="#000" stroke-width="1.1" />
<line x1="25.60" y1="377.80" x2="27.40" y2="377.80" stroke="#000" stroke-width="1.1" />
<line x1="25.60" y1="376.95" x2="27.40" y2="376.95" stroke="#000" stroke-width="1.1" />
<line x1="24.00" y1="376.20" x2="27.40" y2="376.20" stroke="#000" stroke-width="1.3" />
<line x1="25.60" y1="368.22" x2="27.40" y2="368.22" stroke="#000" stroke-width="1.1" />
<line x1="25.60" y1="363.56" x2="27.40" y2="363.56" stroke="#000" stroke-width="1.1" />
<line x1="25.60" y1="360.25" x2="27.40" y2="360.25" stroke="#000" stroke-width="1.1" />
<line x1="25.60" y1="357.68" x2="27.40" y2="357.68" stroke="#000" stroke-width="1.1" />
<line x1="25.60" y1="355.58" x2="27.40" y2="355.58" stroke="#000" stroke-width="1.1" />
<line x1="25.60" y1="353.80" x2="27.40" y2="353.80" stroke="#000" stroke-width="1.1" />
<line x1="25.60" y1="352.27" x2="27.40" y2="352.27" stroke="#000" stroke-width="1.1" />
<line x1="25.60" y1="350.91" x2="27.40" y2="350.91" stroke="#000" stroke-width="1.1" />
<line x1="24.00" y1="349.70" x2="27.40" y2="349.70" stroke="#000" stroke-width="1.3" />
<line x1="25.60" y1="341.45" x2="27.40" y2="341.45" stroke="#000" stroke-width="1.1" />
<line x1="25.60" y1="336.63" x2="27.40" y2="336.63" stroke="#000" stroke-width="1.1" />
<line x1="25.60" y1="333.20" x2="27.40" y2="333.20" stroke="#000" stroke-width="1.1" />
<line x1="25.60" y1="330.55" x2="27.40" y2="330.55" stroke="#000" stroke-width="1.1" />
<line x1="25.60" y1="328.38" x2="27.40" y2="328.38" stroke="#000" stroke-width="1.1" />
<line x1="25.60" y1="326.54" x2="27.40" y2="326.54" stroke="#000" stroke-width="1.1" />
<line x1="25.60" y1="324.96" x2="27.40" y2="324.96" stroke="#000" stroke-width="1.1" />
<line x1="25.60" y1="323.55" x2="27.40" y2="323.55" stroke="#000" stroke-width="1.1" />
<line x1="24.00" y1="322.30" x2="27.40" y2="322.30" stroke="#000" stroke-width="1.3" />
<line x1="25.60" y1="314.44" x2="27.40" y2="314.44" stroke="#000" stroke-width="1.1" />
<line x1="25.60" y1="309.85" x2="27.40" y2="309.85" stroke="#000" stroke-width="1.1" />
<line x1="25.60" y1="306.59" x2="27.40" y2="306.59" stroke="#000" stroke-width="1.1" />
<line x1="25.60" y1="304.06" x2="27.40" y2="304.06" stroke="#000" stroke-width="1.1" />
<line x1="25.60" y1="301.99" x2="27.40" y2="301.99" stroke="#000" stroke-width="1.1" />
<line x1="25.60" y1="300.24" x2="27.40" y2="300.24" stroke="#000" stroke-width="1.1" />
<line x1="25.60" y1="298.73" x2="27.40" y2="298.73" stroke="#000" stroke-width="1.1" />
<line x1="25.60" y1="297.39" x2="27.40" y2="297.39" stroke="#000" stroke-width="1.1" />
<line x1="24.00" y1="296.20" x2="27.40" y2="296.20" stroke="#000" stroke-width="1.3" />
<line x1="34.20" y1="401.20" x2="34.20" y2="404.60" stroke="#000" stroke-width="1.3" />
<line x1="39.77" y1="401.20" x2="39.77" y2="403.00" stroke="#000" stroke-width="1.1" />
<line x1="43.03" y1="401.20" x2="43.03" y2="403.00" stroke="#000" stroke-width="1.1" />
<line x1="45.34" y1="401.20" x2="45.34" y2="403.00" stroke="#000" stroke-width="1.1" />
<line x1="47.13" y1="401.20" x2="47.13" y2="403.00" stroke="#000" stroke-width="1.1" />
<line x1="48.60" y1="401.20" x2="48.60" y2="403.00" stroke="#000" stroke-width="1.1" />
<line x1="49.83" y1="401.20" x2="49.83" y2="403.00" stroke="#000" stroke-width="1.1" />
<line x1="50.91" y1="401.20" x2="50.91" y2="403.00" stroke="#000" stroke-width="1.1" />
<line x1="51.85" y1="401.20" x2="51.85" y2="403.00" stroke="#000" stroke-width="1.1" />
<line x1="52.70" y1="401.20" x2="52.70" y2="404.60" stroke="#000" stroke-width="1.3" />
<line x1="60.68" y1="401.20" x2="60.68" y2="403.00" stroke="#000" stroke-width="1.1" />
<line x1="65.34" y1="401.20" x2="65.34" y2="403.00" stroke="#000" stroke-width="1.1" />
<line x1="68.65" y1="401.20" x2="68.65" y2="403.00" stroke="#000" stroke-width="1.1" />
<line x1="71.22" y1="401.20" x2="71.22" y2="403.00" stroke="#000" stroke-width="1.1" />
<line x1="73.32" y1="401.20" x2="73.32" y2="403.00" stroke="#000" stroke-width="1.1" />
<line x1="75.10" y1="401.20" x2="75.10" y2="403.00" stroke="#000" stroke-width="1.1" />
<line x1="76.63" y1="401.20" x2="76.63" y2="403.00" stroke="#000" stroke-width="1.1" />
<line x1="77.99" y1="401.20" x2="77.99" y2="403.00" stroke="#000" stroke-width="1.1" />
<line x1="79.20" y1="401.20" x2="79.20" y2="404.60" stroke="#000" stroke-width="1.3" />
<line x1="87.18" y1="401.20" x2="87.18" y2="403.00" stroke="#000" stroke-width="1.1" />
<line x1="91.84" y1="401.20" x2="91.84" y2="403.00" stroke="#000" stroke-width="1.1" />
<line x1="95.15" y1="401.20" x2="95.15" y2="403.00" stroke="#000" stroke-width="1.1" />
<line x1="97.72" y1="401.20" x2="97.72" y2="403.00" stroke="#000" stroke-width="1.1" />
<line x1="99.82" y1="401.20" x2="99.82" y2="403.00" stroke="#000" stroke-width="1.1" />
<line x1="101.60" y1="401.20" x2="101.60" y2="403.00" stroke="#000" stroke-width="1.1" />
<line x1="103.13" y1="401.20" x2="103.13" y2="403.00" stroke="#000" stroke-width="1.1" />
<line x1="104.49" y1="401.20" x2="104.49" y2="403.00" stroke="#000" stroke-width="1.1" />
<line x1="105.70" y1="401.20" x2="105.70" y2="404.60" stroke="#000" stroke-width="1.3" />
<line x1="113.68" y1="401.20" x2="113.68" y2="403.00" stroke="#000" stroke-width="1.1" />
<line x1="118.34" y1="401.20" x2="118.34" y2="403.00" stroke="#000" stroke-width="1.1" />
<line x1="121.65" y1="401.20" x2="121.65" y2="403.00" stroke="#000" stroke-width="1.1" />
<line x1="124.22" y1="401.20" x2="124.22" y2="403.00" stroke="#000" stroke-width="1.1" />
<line x1="126.32" y1="401.20" x2="126.32" y2="403.00" stroke="#000" stroke-width="1.1" />
<line x1="128.10" y1="401.20" x2="128.10" y2="403.00" stroke="#000" stroke-width="1.1" />
<line x1="129.63" y1="401.20" x2="129.63" y2="403.00" stroke="#000" stroke-width="1.1" />
<line x1="130.99" y1="401.20" x2="130.99" y2="403.00" stroke="#000" stroke-width="1.1" />
<line x1="132.20" y1="401.20" x2="132.20" y2="404.60" stroke="#000" stroke-width="1.3" />
<text x="84.20" y="421.20" font-size="13.3" text-anchor="middle" font-weight="normal" fill="#222" stroke="#222" stroke-width="0.15" >IFN-γ</text>
<g transform="translate(18.2,344.5) rotate(-90)">
<text x="0.00" y="0.00" font-size="13.8" text-anchor="middle" font-weight="normal" fill="#222" stroke="#222" stroke-width="0.15" >Perforin</text>
</g>
<path d="M216,400.6 L218,398 L220,397 L223,397.6 L226,396.5 L229.5,388 L231.5,372 L233,345 L234.6,315 L236.2,293 L237.1,290.8 L238.3,294 L239.5,318 L240.6,345 L241.8,375 L243.2,392 L245,400.6 Z" fill="#f9c8c8" stroke="#d81e26" stroke-width="1.3" stroke-linejoin="round"/>
<path d="M229,400.6 L232,397.5 L235,396 L237.5,394.8 L239.5,391.5 L241,392 L242.5,388 L244,377 L245.5,350 L246.8,315 L247.8,295 L248.4,291.3 L249.1,295 L250.1,320 L251.2,355 L252.3,385 L253.5,398.5 L255,400.6 Z" fill="#d4d4d4" fill-opacity="0.93" stroke="#555" stroke-width="1.3" stroke-linejoin="round"/>
<line x1="181.80" y1="400.20" x2="297.70" y2="400.20" stroke="#d81e26" stroke-width="1.2" />
<rect x="181.80" y="286.00" width="115.90" height="114.60" fill="none" stroke="#000" stroke-width="1.7"/>
<line x1="178.80" y1="290.70" x2="181.80" y2="290.70" stroke="#000" stroke-width="1.2" />
<line x1="178.80" y1="313.00" x2="181.80" y2="313.00" stroke="#000" stroke-width="1.2" />
<line x1="178.80" y1="334.90" x2="181.80" y2="334.90" stroke="#000" stroke-width="1.2" />
<line x1="178.80" y1="356.90" x2="181.80" y2="356.90" stroke="#000" stroke-width="1.2" />
<line x1="178.80" y1="379.00" x2="181.80" y2="379.00" stroke="#000" stroke-width="1.2" />
<line x1="189.60" y1="400.60" x2="189.60" y2="403.80" stroke="#000" stroke-width="1.3" />
<line x1="193.78" y1="400.60" x2="193.78" y2="402.40" stroke="#000" stroke-width="1.1" />
<line x1="196.23" y1="400.60" x2="196.23" y2="402.40" stroke="#000" stroke-width="1.1" />
<line x1="197.97" y1="400.60" x2="197.97" y2="402.40" stroke="#000" stroke-width="1.1" />
<line x1="199.32" y1="400.60" x2="199.32" y2="402.40" stroke="#000" stroke-width="1.1" />
<line x1="200.42" y1="400.60" x2="200.42" y2="402.40" stroke="#000" stroke-width="1.1" />
<line x1="201.35" y1="400.60" x2="201.35" y2="402.40" stroke="#000" stroke-width="1.1" />
<line x1="202.15" y1="400.60" x2="202.15" y2="402.40" stroke="#000" stroke-width="1.1" />
<line x1="202.86" y1="400.60" x2="202.86" y2="402.40" stroke="#000" stroke-width="1.1" />
<line x1="203.50" y1="400.60" x2="203.50" y2="403.80" stroke="#000" stroke-width="1.3" />
<line x1="211.48" y1="400.60" x2="211.48" y2="402.40" stroke="#000" stroke-width="1.1" />
<line x1="216.14" y1="400.60" x2="216.14" y2="402.40" stroke="#000" stroke-width="1.1" />
<line x1="219.45" y1="400.60" x2="219.45" y2="402.40" stroke="#000" stroke-width="1.1" />
<line x1="222.02" y1="400.60" x2="222.02" y2="402.40" stroke="#000" stroke-width="1.1" />
<line x1="224.12" y1="400.60" x2="224.12" y2="402.40" stroke="#000" stroke-width="1.1" />
<line x1="225.90" y1="400.60" x2="225.90" y2="402.40" stroke="#000" stroke-width="1.1" />
<line x1="227.43" y1="400.60" x2="227.43" y2="402.40" stroke="#000" stroke-width="1.1" />
<line x1="228.79" y1="400.60" x2="228.79" y2="402.40" stroke="#000" stroke-width="1.1" />
<line x1="230.00" y1="400.60" x2="230.00" y2="403.80" stroke="#000" stroke-width="1.3" />
<line x1="237.98" y1="400.60" x2="237.98" y2="402.40" stroke="#000" stroke-width="1.1" />
<line x1="242.64" y1="400.60" x2="242.64" y2="402.40" stroke="#000" stroke-width="1.1" />
<line x1="245.95" y1="400.60" x2="245.95" y2="402.40" stroke="#000" stroke-width="1.1" />
<line x1="248.52" y1="400.60" x2="248.52" y2="402.40" stroke="#000" stroke-width="1.1" />
<line x1="250.62" y1="400.60" x2="250.62" y2="402.40" stroke="#000" stroke-width="1.1" />
<line x1="252.40" y1="400.60" x2="252.40" y2="402.40" stroke="#000" stroke-width="1.1" />
<line x1="253.93" y1="400.60" x2="253.93" y2="402.40" stroke="#000" stroke-width="1.1" />
<line x1="255.29" y1="400.60" x2="255.29" y2="402.40" stroke="#000" stroke-width="1.1" />
<line x1="256.50" y1="400.60" x2="256.50" y2="403.80" stroke="#000" stroke-width="1.3" />
<line x1="264.48" y1="400.60" x2="264.48" y2="402.40" stroke="#000" stroke-width="1.1" />
<line x1="269.14" y1="400.60" x2="269.14" y2="402.40" stroke="#000" stroke-width="1.1" />
<line x1="272.45" y1="400.60" x2="272.45" y2="402.40" stroke="#000" stroke-width="1.1" />
<line x1="275.02" y1="400.60" x2="275.02" y2="402.40" stroke="#000" stroke-width="1.1" />
<line x1="277.12" y1="400.60" x2="277.12" y2="402.40" stroke="#000" stroke-width="1.1" />
<line x1="278.90" y1="400.60" x2="278.90" y2="402.40" stroke="#000" stroke-width="1.1" />
<line x1="280.43" y1="400.60" x2="280.43" y2="402.40" stroke="#000" stroke-width="1.1" />
<line x1="281.79" y1="400.60" x2="281.79" y2="402.40" stroke="#000" stroke-width="1.1" />
<line x1="283.00" y1="400.60" x2="283.00" y2="403.80" stroke="#000" stroke-width="1.3" />
<text x="239.30" y="421.00" font-size="13.6" text-anchor="middle" font-weight="normal" fill="#222" stroke="#222" stroke-width="0.15" >T-bet</text>
<g transform="translate(173.3,345.2) rotate(-90)">
<text x="0.00" y="0.00" font-size="13.4" text-anchor="middle" font-weight="normal" fill="#222" stroke="#222" stroke-width="0.15" >% of Max</text>
</g>
<rect x="74.5" y="545.0" width="60.0" height="14.3" fill="#c3c5f7" stroke="#2a3ad6" stroke-width="1.4"/>
<rect x="74.5" y="560.8" width="60.0" height="14.2" fill="#fde0cb" stroke="#e08e48" stroke-width="1.4"/>
<g clip-path="url(#clipE)">
<path d="M94.0 554.2h1.0v1.0h-1.0zM82.4 553.9h1.0v1.0h-1.0zM98.0 552.9h1.0v1.0h-1.0zM76.3 555.2h1.0v1.0h-1.0zM77.9 553.3h1.0v1.0h-1.0zM95.9 555.6h1.0v1.0h-1.0zM95.2 553.1h1.0v1.0h-1.0zM88.2 555.1h1.0v1.0h-1.0zM88.2 555.7h1.0v1.0h-1.0zM81.1 555.5h1.0v1.0h-1.0zM113.6 553.7h1.0v1.0h-1.0zM88.0 553.4h1.0v1.0h-1.0zM101.6 555.0h1.0v1.0h-1.0zM82.8 553.2h1.0v1.0h-1.0zM81.4 554.4h1.0v1.0h-1.0zM91.9 553.2h1.0v1.0h-1.0zM79.7 550.1h1.0v1.0h-1.0zM79.5 553.0h1.0v1.0h-1.0zM101.6 550.6h1.0v1.0h-1.0zM96.3 553.3h1.0v1.0h-1.0zM81.9 554.8h1.0v1.0h-1.0zM76.8 552.5h1.0v1.0h-1.0zM75.7 552.0h1.0v1.0h-1.0zM83.7 553.6h1.0v1.0h-1.0zM79.7 552.8h1.0v1.0h-1.0zM102.6 554.5h1.0v1.0h-1.0zM75.5 553.5h1.0v1.0h-1.0zM79.2 550.8h1.0v1.0h-1.0zM108.2 552.8h1.0v1.0h-1.0zM83.4 550.6h1.0v1.0h-1.0zM85.6 549.5h1.0v1.0h-1.0zM92.1 556.7h1.0v1.0h-1.0zM85.2 552.5h1.0v1.0h-1.0zM77.6 554.0h1.0v1.0h-1.0zM78.8 554.1h1.0v1.0h-1.0zM109.0 552.5h1.0v1.0h-1.0zM82.3 553.3h1.0v1.0h-1.0zM80.9 555.2h1.0v1.0h-1.0zM85.6 556.3h1.0v1.0h-1.0zM101.1 552.7h1.0v1.0h-1.0zM93.6 556.3h1.0v1.0h-1.0zM90.8 551.8h1.0v1.0h-1.0zM97.0 555.7h1.0v1.0h-1.0zM87.8 554.2h1.0v1.0h-1.0zM98.4 552.8h1.0v1.0h-1.0zM77.6 552.6h1.0v1.0h-1.0zM108.2 554.6h1.0v1.0h-1.0zM84.8 554.6h1.0v1.0h-1.0zM83.6 553.2h1.0v1.0h-1.0zM82.6 549.7h1.0v1.0h-1.0zM94.5 552.9h1.0v1.0h-1.0zM86.2 555.2h1.0v1.0h-1.0zM80.3 554.0h1.0v1.0h-1.0zM106.7 554.3h1.0v1.0h-1.0zM89.2 554.1h1.0v1.0h-1.0zM117.4 556.5h1.0v1.0h-1.0zM87.8 554.1h1.0v1.0h-1.0zM78.5 554.2h1.0v1.0h-1.0zM84.7 554.4h1.0v1.0h-1.0zM82.6 554.1h1.0v1.0h-1.0zM91.5 555.3h1.0v1.0h-1.0zM86.7 552.0h1.0v1.0h-1.0zM86.7 552.2h1.0v1.0h-1.0zM84.6 553.3h1.0v1.0h-1.0zM77.9 552.9h1.0v1.0h-1.0zM79.4 557.1h1.0v1.0h-1.0zM89.4 551.6h1.0v1.0h-1.0zM81.5 551.5h1.0v1.0h-1.0zM82.9 553.5h1.0v1.0h-1.0zM87.6 554.9h1.0v1.0h-1.0zM110.7 555.2h1.0v1.0h-1.0zM76.7 551.2h1.0v1.0h-1.0zM77.1 552.8h1.0v1.0h-1.0zM88.4 550.6h1.0v1.0h-1.0zM92.1 554.9h1.0v1.0h-1.0zM108.2 553.5h1.0v1.0h-1.0zM101.8 555.8h1.0v1.0h-1.0zM82.3 550.5h1.0v1.0h-1.0zM79.0 554.5h1.0v1.0h-1.0zM95.5 554.9h1.0v1.0h-1.0zM109.5 553.1h1.0v1.0h-1.0zM98.9 551.5h1.0v1.0h-1.0zM88.0 553.1h1.0v1.0h-1.0zM99.7 553.4h1.0v1.0h-1.0zM81.9 555.3h1.0v1.0h-1.0zM83.7 552.5h1.0v1.0h-1.0zM79.4 553.5h1.0v1.0h-1.0zM96.1 555.5h1.0v1.0h-1.0zM79.0 555.0h1.0v1.0h-1.0zM91.9 554.2h1.0v1.0h-1.0zM86.0 553.8h1.0v1.0h-1.0zM76.2 555.4h1.0v1.0h-1.0zM83.7 550.1h1.0v1.0h-1.0zM94.1 554.4h1.0v1.0h-1.0zM105.2 552.5h1.0v1.0h-1.0zM82.3 553.7h1.0v1.0h-1.0zM111.4 553.2h1.0v1.0h-1.0zM76.7 552.3h1.0v1.0h-1.0zM89.2 552.8h1.0v1.0h-1.0zM82.5 552.2h1.0v1.0h-1.0zM94.9 554.4h1.0v1.0h-1.0zM77.1 553.0h1.0v1.0h-1.0zM84.6 551.6h1.0v1.0h-1.0zM81.1 554.5h1.0v1.0h-1.0zM100.4 553.4h1.0v1.0h-1.0zM81.2 551.8h1.0v1.0h-1.0zM112.5 552.5h1.0v1.0h-1.0zM81.9 555.9h1.0v1.0h-1.0zM81.6 553.6h1.0v1.0h-1.0zM110.5 552.3h1.0v1.0h-1.0z" fill="#2c2c88" opacity="0.85"/>
<path d="M95.6 567.8h1.0v1.0h-1.0zM93.3 568.8h1.0v1.0h-1.0zM101.2 568.5h1.0v1.0h-1.0zM92.6 566.5h1.0v1.0h-1.0zM87.8 568.5h1.0v1.0h-1.0zM81.3 566.7h1.0v1.0h-1.0zM81.8 562.3h1.0v1.0h-1.0zM111.4 570.7h1.0v1.0h-1.0zM103.8 573.5h1.0v1.0h-1.0zM90.9 566.9h1.0v1.0h-1.0zM86.9 571.3h1.0v1.0h-1.0zM79.9 565.2h1.0v1.0h-1.0zM101.2 565.0h1.0v1.0h-1.0zM91.0 568.9h1.0v1.0h-1.0zM86.4 569.3h1.0v1.0h-1.0zM91.5 567.0h1.0v1.0h-1.0zM117.0 572.2h1.0v1.0h-1.0zM87.6 572.1h1.0v1.0h-1.0zM91.6 569.3h1.0v1.0h-1.0zM93.7 562.3h1.0v1.0h-1.0zM81.1 564.3h1.0v1.0h-1.0zM113.8 567.4h1.0v1.0h-1.0zM87.2 563.1h1.0v1.0h-1.0zM79.8 571.5h1.0v1.0h-1.0zM93.1 568.8h1.0v1.0h-1.0zM80.6 562.6h1.0v1.0h-1.0zM80.2 572.8h1.0v1.0h-1.0zM89.0 569.4h1.0v1.0h-1.0zM104.5 569.0h1.0v1.0h-1.0zM89.4 565.5h1.0v1.0h-1.0zM117.2 565.4h1.0v1.0h-1.0zM103.2 565.5h1.0v1.0h-1.0zM90.6 567.0h1.0v1.0h-1.0zM104.8 567.2h1.0v1.0h-1.0zM113.6 562.5h1.0v1.0h-1.0zM79.3 562.0h1.0v1.0h-1.0zM88.4 562.0h1.0v1.0h-1.0zM116.8 568.1h1.0v1.0h-1.0zM92.4 567.0h1.0v1.0h-1.0zM95.5 570.0h1.0v1.0h-1.0zM114.5 569.1h1.0v1.0h-1.0zM104.1 571.6h1.0v1.0h-1.0zM108.0 567.5h1.0v1.0h-1.0zM90.9 563.2h1.0v1.0h-1.0zM90.7 563.8h1.0v1.0h-1.0zM82.8 570.7h1.0v1.0h-1.0zM87.3 567.0h1.0v1.0h-1.0zM82.0 564.9h1.0v1.0h-1.0zM80.1 564.6h1.0v1.0h-1.0zM120.0 566.2h1.0v1.0h-1.0zM111.4 569.2h1.0v1.0h-1.0zM83.0 566.8h1.0v1.0h-1.0zM83.6 562.6h1.0v1.0h-1.0zM94.1 567.0h1.0v1.0h-1.0zM88.4 563.6h1.0v1.0h-1.0zM101.5 568.9h1.0v1.0h-1.0zM104.5 569.4h1.0v1.0h-1.0zM84.6 563.6h1.0v1.0h-1.0zM108.9 566.0h1.0v1.0h-1.0zM92.1 570.5h1.0v1.0h-1.0zM104.1 567.7h1.0v1.0h-1.0zM88.7 569.0h1.0v1.0h-1.0zM85.8 569.7h1.0v1.0h-1.0zM90.8 564.6h1.0v1.0h-1.0zM92.7 570.3h1.0v1.0h-1.0zM88.3 566.8h1.0v1.0h-1.0zM107.2 562.1h1.0v1.0h-1.0zM83.8 562.0h1.0v1.0h-1.0zM94.9 569.3h1.0v1.0h-1.0zM113.5 562.1h1.0v1.0h-1.0zM80.6 566.6h1.0v1.0h-1.0zM87.0 568.4h1.0v1.0h-1.0zM119.0 562.0h1.0v1.0h-1.0zM92.1 563.8h1.0v1.0h-1.0zM110.3 564.9h1.0v1.0h-1.0zM105.8 567.7h1.0v1.0h-1.0zM116.0 570.0h1.0v1.0h-1.0zM99.6 569.3h1.0v1.0h-1.0zM87.9 566.0h1.0v1.0h-1.0zM87.5 568.1h1.0v1.0h-1.0zM89.0 563.7h1.0v1.0h-1.0zM87.5 564.6h1.0v1.0h-1.0zM78.0 565.0h1.0v1.0h-1.0zM86.9 570.7h1.0v1.0h-1.0zM90.5 568.4h1.0v1.0h-1.0zM97.2 571.8h1.0v1.0h-1.0zM82.0 569.3h1.0v1.0h-1.0zM97.3 568.7h1.0v1.0h-1.0zM100.3 568.4h1.0v1.0h-1.0zM102.4 567.9h1.0v1.0h-1.0zM93.1 566.5h1.0v1.0h-1.0zM116.7 569.3h1.0v1.0h-1.0zM90.5 564.6h1.0v1.0h-1.0zM93.3 565.9h1.0v1.0h-1.0zM110.2 569.7h1.0v1.0h-1.0zM87.3 566.9h1.0v1.0h-1.0zM103.7 567.1h1.0v1.0h-1.0zM112.6 567.3h1.0v1.0h-1.0zM93.5 568.2h1.0v1.0h-1.0zM111.3 564.4h1.0v1.0h-1.0zM94.5 567.3h1.0v1.0h-1.0zM97.3 567.4h1.0v1.0h-1.0zM100.3 568.0h1.0v1.0h-1.0zM99.7 566.4h1.0v1.0h-1.0zM92.0 565.4h1.0v1.0h-1.0zM89.7 567.0h1.0v1.0h-1.0zM96.3 568.2h1.0v1.0h-1.0zM95.4 566.4h1.0v1.0h-1.0zM107.1 568.8h1.0v1.0h-1.0zM84.8 566.6h1.0v1.0h-1.0zM115.8 570.2h1.0v1.0h-1.0zM81.4 566.5h1.0v1.0h-1.0zM114.4 562.4h1.0v1.0h-1.0zM99.6 570.9h1.0v1.0h-1.0zM108.1 569.6h1.0v1.0h-1.0zM88.0 571.2h1.0v1.0h-1.0zM92.9 570.0h1.0v1.0h-1.0zM86.8 562.7h1.0v1.0h-1.0zM87.9 564.3h1.0v1.0h-1.0zM92.4 569.0h1.0v1.0h-1.0zM84.7 567.1h1.0v1.0h-1.0zM112.3 571.5h1.0v1.0h-1.0zM80.6 562.6h1.0v1.0h-1.0zM80.4 565.2h1.0v1.0h-1.0zM108.8 569.8h1.0v1.0h-1.0zM97.3 569.6h1.0v1.0h-1.0zM99.8 566.0h1.0v1.0h-1.0zM98.3 569.7h1.0v1.0h-1.0zM93.5 565.3h1.0v1.0h-1.0zM93.9 564.4h1.0v1.0h-1.0zM79.2 564.6h1.0v1.0h-1.0zM88.4 564.8h1.0v1.0h-1.0zM105.2 567.6h1.0v1.0h-1.0zM86.7 564.0h1.0v1.0h-1.0zM94.9 568.1h1.0v1.0h-1.0zM93.7 567.9h1.0v1.0h-1.0zM83.4 563.9h1.0v1.0h-1.0zM80.6 568.2h1.0v1.0h-1.0zM100.2 571.0h1.0v1.0h-1.0zM105.8 569.2h1.0v1.0h-1.0zM96.1 570.1h1.0v1.0h-1.0zM92.2 568.1h1.0v1.0h-1.0zM116.5 570.6h1.0v1.0h-1.0zM123.3 571.2h1.0v1.0h-1.0zM103.8 567.7h1.0v1.0h-1.0zM120.2 565.3h1.0v1.0h-1.0zM95.5 573.0h1.0v1.0h-1.0zM86.2 565.3h1.0v1.0h-1.0zM106.3 567.9h1.0v1.0h-1.0zM91.5 566.6h1.0v1.0h-1.0zM104.8 570.2h1.0v1.0h-1.0zM89.5 572.0h1.0v1.0h-1.0zM107.6 569.1h1.0v1.0h-1.0zM113.9 569.6h1.0v1.0h-1.0zM87.6 566.7h1.0v1.0h-1.0zM90.6 570.3h1.0v1.0h-1.0zM80.3 567.7h1.0v1.0h-1.0zM115.2 568.5h1.0v1.0h-1.0zM101.7 568.3h1.0v1.0h-1.0zM106.1 566.0h1.0v1.0h-1.0zM84.4 563.1h1.0v1.0h-1.0zM91.7 566.2h1.0v1.0h-1.0zM110.7 563.5h1.0v1.0h-1.0zM111.3 565.7h1.0v1.0h-1.0zM83.9 570.9h1.0v1.0h-1.0zM92.7 566.8h1.0v1.0h-1.0zM106.7 566.2h1.0v1.0h-1.0zM98.1 574.0h1.0v1.0h-1.0zM91.7 567.3h1.0v1.0h-1.0zM86.6 564.0h1.0v1.0h-1.0zM104.3 571.9h1.0v1.0h-1.0zM88.9 568.5h1.0v1.0h-1.0zM100.3 570.7h1.0v1.0h-1.0zM101.2 566.6h1.0v1.0h-1.0zM90.5 567.7h1.0v1.0h-1.0zM85.7 567.0h1.0v1.0h-1.0zM99.4 563.9h1.0v1.0h-1.0zM112.2 568.4h1.0v1.0h-1.0zM85.0 567.6h1.0v1.0h-1.0zM79.1 571.0h1.0v1.0h-1.0zM76.4 566.2h1.0v1.0h-1.0zM91.6 568.0h1.0v1.0h-1.0zM88.1 563.8h1.0v1.0h-1.0zM87.5 565.1h1.0v1.0h-1.0zM99.7 565.5h1.0v1.0h-1.0zM115.2 567.2h1.0v1.0h-1.0zM88.7 567.7h1.0v1.0h-1.0zM100.2 568.0h1.0v1.0h-1.0zM110.6 567.6h1.0v1.0h-1.0zM89.2 564.2h1.0v1.0h-1.0zM78.0 564.8h1.0v1.0h-1.0zM91.5 564.2h1.0v1.0h-1.0zM100.5 562.0h1.0v1.0h-1.0zM103.9 569.3h1.0v1.0h-1.0zM88.8 567.7h1.0v1.0h-1.0zM96.7 566.5h1.0v1.0h-1.0zM93.0 567.1h1.0v1.0h-1.0zM105.9 568.0h1.0v1.0h-1.0zM78.1 562.0h1.0v1.0h-1.0zM85.4 564.9h1.0v1.0h-1.0z" fill="#34307e" opacity="0.85"/>
<path d="M66.1 546.9h1.1v1.1h-1.1zM40.4 548.9h1.1v1.1h-1.1zM37.8 549.8h1.1v1.1h-1.1zM56.3 594.3h1.1v1.1h-1.1zM58.2 592.3h1.1v1.1h-1.1zM50.3 548.9h1.1v1.1h-1.1zM61.5 590.1h1.1v1.1h-1.1zM33.2 602.7h1.1v1.1h-1.1zM72.8 564.9h1.1v1.1h-1.1zM36.6 597.4h1.1v1.1h-1.1zM65.8 585.2h1.1v1.1h-1.1zM28.7 582.2h1.1v1.1h-1.1zM25.6 564.5h1.1v1.1h-1.1zM70.8 571.9h1.1v1.1h-1.1zM67.5 547.0h1.1v1.1h-1.1zM40.0 554.0h1.1v1.1h-1.1zM28.6 564.1h1.1v1.1h-1.1zM71.0 547.9h1.1v1.1h-1.1zM62.3 589.2h1.1v1.1h-1.1zM72.9 559.3h1.1v1.1h-1.1zM37.7 591.7h1.1v1.1h-1.1zM31.9 557.0h1.1v1.1h-1.1zM63.9 589.0h1.1v1.1h-1.1zM71.3 552.3h1.1v1.1h-1.1zM72.4 558.9h1.1v1.1h-1.1zM30.4 580.2h1.1v1.1h-1.1zM63.9 589.5h1.1v1.1h-1.1zM58.4 545.8h1.1v1.1h-1.1zM54.4 546.8h1.1v1.1h-1.1zM62.2 546.6h1.1v1.1h-1.1zM55.1 594.7h1.1v1.1h-1.1zM51.6 597.4h1.1v1.1h-1.1zM68.0 582.5h1.1v1.1h-1.1zM72.0 549.7h1.1v1.1h-1.1zM48.3 600.4h1.1v1.1h-1.1zM57.0 598.4h1.1v1.1h-1.1zM74.9 551.8h1.1v1.1h-1.1zM68.8 579.3h1.1v1.1h-1.1zM43.3 600.3h1.1v1.1h-1.1zM74.8 570.8h1.1v1.1h-1.1zM50.3 547.0h1.1v1.1h-1.1zM35.9 591.1h1.1v1.1h-1.1zM54.8 546.6h1.1v1.1h-1.1zM57.7 592.1h1.1v1.1h-1.1zM68.0 584.3h1.1v1.1h-1.1zM68.6 547.6h1.1v1.1h-1.1zM69.2 581.9h1.1v1.1h-1.1zM30.4 560.7h1.1v1.1h-1.1zM59.3 593.0h1.1v1.1h-1.1zM27.7 557.8h1.1v1.1h-1.1zM28.0 567.8h1.1v1.1h-1.1zM29.2 567.9h1.1v1.1h-1.1zM36.5 596.4h1.1v1.1h-1.1zM26.5 574.7h1.1v1.1h-1.1zM33.5 558.0h1.1v1.1h-1.1zM74.0 566.1h1.1v1.1h-1.1zM29.1 556.5h1.1v1.1h-1.1zM60.6 590.3h1.1v1.1h-1.1zM49.9 598.0h1.1v1.1h-1.1zM38.8 593.0h1.1v1.1h-1.1zM73.8 557.0h1.1v1.1h-1.1zM71.9 571.6h1.1v1.1h-1.1zM37.3 593.6h1.1v1.1h-1.1zM39.0 553.8h1.1v1.1h-1.1zM31.5 553.9h1.1v1.1h-1.1zM72.6 586.5h1.1v1.1h-1.1zM44.4 551.0h1.1v1.1h-1.1zM43.7 548.3h1.1v1.1h-1.1zM53.1 545.2h1.1v1.1h-1.1zM31.1 582.8h1.1v1.1h-1.1zM67.6 543.8h1.1v1.1h-1.1zM73.1 555.9h1.1v1.1h-1.1zM44.6 549.0h1.1v1.1h-1.1zM71.2 570.7h1.1v1.1h-1.1zM29.0 582.1h1.1v1.1h-1.1zM61.9 590.1h1.1v1.1h-1.1zM28.6 565.4h1.1v1.1h-1.1zM38.5 554.2h1.1v1.1h-1.1zM41.3 593.8h1.1v1.1h-1.1zM29.3 560.8h1.1v1.1h-1.1zM33.6 559.1h1.1v1.1h-1.1zM61.9 589.3h1.1v1.1h-1.1zM67.3 583.7h1.1v1.1h-1.1zM22.5 576.4h1.1v1.1h-1.1zM30.6 585.7h1.1v1.1h-1.1zM30.4 559.9h1.1v1.1h-1.1zM72.6 552.1h1.1v1.1h-1.1zM44.4 550.4h1.1v1.1h-1.1zM36.4 556.1h1.1v1.1h-1.1zM36.9 553.3h1.1v1.1h-1.1zM57.2 595.5h1.1v1.1h-1.1zM52.3 548.7h1.1v1.1h-1.1zM72.3 555.7h1.1v1.1h-1.1zM53.7 597.1h1.1v1.1h-1.1zM34.2 589.0h1.1v1.1h-1.1zM39.3 554.3h1.1v1.1h-1.1zM64.4 592.4h1.1v1.1h-1.1zM43.9 594.7h1.1v1.1h-1.1zM34.4 593.6h1.1v1.1h-1.1zM24.8 582.8h1.1v1.1h-1.1zM68.2 579.1h1.1v1.1h-1.1zM29.4 562.4h1.1v1.1h-1.1zM65.6 547.0h1.1v1.1h-1.1zM49.5 595.4h1.1v1.1h-1.1zM68.4 579.6h1.1v1.1h-1.1zM72.8 575.9h1.1v1.1h-1.1zM57.0 593.8h1.1v1.1h-1.1zM39.9 553.5h1.1v1.1h-1.1zM75.5 554.1h1.1v1.1h-1.1zM70.2 544.8h1.1v1.1h-1.1zM31.6 553.8h1.1v1.1h-1.1zM66.8 542.9h1.1v1.1h-1.1zM45.1 548.4h1.1v1.1h-1.1zM64.8 590.4h1.1v1.1h-1.1zM69.2 582.3h1.1v1.1h-1.1zM39.5 554.3h1.1v1.1h-1.1zM27.3 572.0h1.1v1.1h-1.1zM31.2 583.0h1.1v1.1h-1.1zM71.2 573.3h1.1v1.1h-1.1zM28.6 569.2h1.1v1.1h-1.1zM63.4 587.4h1.1v1.1h-1.1zM61.4 547.0h1.1v1.1h-1.1zM31.6 589.6h1.1v1.1h-1.1zM27.8 574.2h1.1v1.1h-1.1zM62.6 587.9h1.1v1.1h-1.1zM54.9 595.0h1.1v1.1h-1.1zM63.6 596.4h1.1v1.1h-1.1zM74.7 559.0h1.1v1.1h-1.1zM21.8 573.5h1.1v1.1h-1.1zM76.3 556.1h1.1v1.1h-1.1zM27.4 579.6h1.1v1.1h-1.1zM44.4 548.1h1.1v1.1h-1.1zM73.8 580.8h1.1v1.1h-1.1zM62.6 589.5h1.1v1.1h-1.1zM38.7 551.2h1.1v1.1h-1.1zM34.1 556.1h1.1v1.1h-1.1zM63.7 543.1h1.1v1.1h-1.1zM60.8 589.9h1.1v1.1h-1.1zM28.5 571.8h1.1v1.1h-1.1zM27.4 565.5h1.1v1.1h-1.1zM57.9 594.3h1.1v1.1h-1.1zM45.1 549.3h1.1v1.1h-1.1zM74.4 544.5h1.1v1.1h-1.1zM26.8 571.5h1.1v1.1h-1.1zM50.7 596.3h1.1v1.1h-1.1zM58.7 544.8h1.1v1.1h-1.1zM54.1 595.0h1.1v1.1h-1.1zM58.5 592.9h1.1v1.1h-1.1zM31.8 585.5h1.1v1.1h-1.1zM56.3 544.6h1.1v1.1h-1.1zM74.6 567.9h1.1v1.1h-1.1zM35.6 591.3h1.1v1.1h-1.1zM41.8 552.9h1.1v1.1h-1.1zM64.0 590.8h1.1v1.1h-1.1zM50.1 547.4h1.1v1.1h-1.1zM37.7 544.9h1.1v1.1h-1.1zM72.2 564.7h1.1v1.1h-1.1zM63.3 546.6h1.1v1.1h-1.1zM43.6 551.3h1.1v1.1h-1.1zM36.9 598.4h1.1v1.1h-1.1zM73.9 551.3h1.1v1.1h-1.1zM68.9 547.2h1.1v1.1h-1.1zM41.5 596.1h1.1v1.1h-1.1zM42.2 599.0h1.1v1.1h-1.1zM29.8 578.4h1.1v1.1h-1.1zM75.0 562.6h1.1v1.1h-1.1zM61.4 546.8h1.1v1.1h-1.1zM69.4 578.5h1.1v1.1h-1.1zM47.2 595.8h1.1v1.1h-1.1zM65.3 545.7h1.1v1.1h-1.1zM58.1 546.8h1.1v1.1h-1.1zM44.7 597.9h1.1v1.1h-1.1zM25.8 562.3h1.1v1.1h-1.1zM27.9 564.1h1.1v1.1h-1.1zM35.4 551.1h1.1v1.1h-1.1zM34.0 595.3h1.1v1.1h-1.1zM64.3 591.3h1.1v1.1h-1.1zM27.6 578.3h1.1v1.1h-1.1zM62.9 545.1h1.1v1.1h-1.1zM28.5 561.1h1.1v1.1h-1.1zM70.9 568.4h1.1v1.1h-1.1zM71.8 545.9h1.1v1.1h-1.1zM27.0 572.6h1.1v1.1h-1.1zM28.6 577.9h1.1v1.1h-1.1zM70.4 577.5h1.1v1.1h-1.1zM43.5 550.8h1.1v1.1h-1.1zM45.3 550.6h1.1v1.1h-1.1zM73.6 567.4h1.1v1.1h-1.1zM72.0 555.0h1.1v1.1h-1.1zM46.5 549.4h1.1v1.1h-1.1zM65.1 540.3h1.1v1.1h-1.1zM54.8 547.3h1.1v1.1h-1.1zM33.4 554.1h1.1v1.1h-1.1zM30.1 563.9h1.1v1.1h-1.1zM69.5 594.6h1.1v1.1h-1.1zM72.0 564.8h1.1v1.1h-1.1zM29.2 574.1h1.1v1.1h-1.1zM54.0 546.1h1.1v1.1h-1.1zM64.7 587.6h1.1v1.1h-1.1zM49.1 547.8h1.1v1.1h-1.1zM29.3 566.4h1.1v1.1h-1.1zM62.0 546.5h1.1v1.1h-1.1zM35.4 546.7h1.1v1.1h-1.1zM65.2 594.8h1.1v1.1h-1.1zM63.6 587.1h1.1v1.1h-1.1zM72.4 570.1h1.1v1.1h-1.1zM26.8 565.1h1.1v1.1h-1.1zM40.2 593.4h1.1v1.1h-1.1zM56.9 595.0h1.1v1.1h-1.1zM51.5 544.9h1.1v1.1h-1.1zM30.3 555.4h1.1v1.1h-1.1zM41.9 551.7h1.1v1.1h-1.1zM29.1 576.7h1.1v1.1h-1.1zM29.2 583.7h1.1v1.1h-1.1zM75.5 557.0h1.1v1.1h-1.1zM32.9 548.1h1.1v1.1h-1.1zM56.8 594.5h1.1v1.1h-1.1zM67.3 547.6h1.1v1.1h-1.1zM68.0 547.4h1.1v1.1h-1.1zM28.5 587.9h1.1v1.1h-1.1zM56.8 595.4h1.1v1.1h-1.1zM70.5 549.4h1.1v1.1h-1.1zM31.4 559.5h1.1v1.1h-1.1zM70.3 544.4h1.1v1.1h-1.1zM70.4 575.8h1.1v1.1h-1.1zM44.6 600.2h1.1v1.1h-1.1zM30.1 581.0h1.1v1.1h-1.1zM26.2 574.7h1.1v1.1h-1.1zM61.2 544.8h1.1v1.1h-1.1zM51.1 548.8h1.1v1.1h-1.1zM23.8 586.1h1.1v1.1h-1.1zM27.8 567.6h1.1v1.1h-1.1zM29.0 571.5h1.1v1.1h-1.1zM60.4 541.4h1.1v1.1h-1.1zM33.0 560.1h1.1v1.1h-1.1zM70.2 549.1h1.1v1.1h-1.1zM28.7 588.5h1.1v1.1h-1.1zM70.3 576.9h1.1v1.1h-1.1zM76.3 559.2h1.1v1.1h-1.1zM72.8 568.7h1.1v1.1h-1.1zM43.8 596.7h1.1v1.1h-1.1zM27.9 570.3h1.1v1.1h-1.1zM26.2 574.4h1.1v1.1h-1.1zM72.3 555.7h1.1v1.1h-1.1zM38.2 555.4h1.1v1.1h-1.1zM58.7 593.8h1.1v1.1h-1.1zM25.5 577.1h1.1v1.1h-1.1zM67.8 580.1h1.1v1.1h-1.1zM73.6 557.7h1.1v1.1h-1.1zM71.5 551.0h1.1v1.1h-1.1zM30.0 560.8h1.1v1.1h-1.1zM42.3 552.1h1.1v1.1h-1.1zM68.9 546.0h1.1v1.1h-1.1zM31.2 562.2h1.1v1.1h-1.1zM70.5 546.5h1.1v1.1h-1.1zM37.7 549.1h1.1v1.1h-1.1zM28.5 570.6h1.1v1.1h-1.1zM63.1 595.2h1.1v1.1h-1.1zM32.6 589.8h1.1v1.1h-1.1zM25.8 567.7h1.1v1.1h-1.1zM53.9 597.0h1.1v1.1h-1.1zM40.0 552.9h1.1v1.1h-1.1zM61.0 589.6h1.1v1.1h-1.1zM71.6 575.9h1.1v1.1h-1.1zM75.3 548.4h1.1v1.1h-1.1zM60.2 545.9h1.1v1.1h-1.1zM63.3 546.8h1.1v1.1h-1.1zM53.6 546.4h1.1v1.1h-1.1zM30.9 562.4h1.1v1.1h-1.1zM26.9 574.2h1.1v1.1h-1.1zM51.1 600.9h1.1v1.1h-1.1zM68.0 593.8h1.1v1.1h-1.1zM56.7 595.1h1.1v1.1h-1.1zM51.2 595.2h1.1v1.1h-1.1zM48.4 549.2h1.1v1.1h-1.1zM75.3 554.2h1.1v1.1h-1.1zM37.5 593.0h1.1v1.1h-1.1zM75.1 565.6h1.1v1.1h-1.1zM61.1 591.3h1.1v1.1h-1.1zM28.9 569.2h1.1v1.1h-1.1zM65.0 546.6h1.1v1.1h-1.1zM71.3 568.1h1.1v1.1h-1.1zM73.8 552.6h1.1v1.1h-1.1zM39.4 554.5h1.1v1.1h-1.1zM32.2 557.6h1.1v1.1h-1.1zM68.8 548.2h1.1v1.1h-1.1zM60.1 590.4h1.1v1.1h-1.1zM69.7 575.1h1.1v1.1h-1.1zM34.4 554.6h1.1v1.1h-1.1zM53.3 597.2h1.1v1.1h-1.1zM60.4 545.4h1.1v1.1h-1.1zM56.8 595.6h1.1v1.1h-1.1zM37.3 554.0h1.1v1.1h-1.1zM26.6 562.1h1.1v1.1h-1.1zM34.0 558.5h1.1v1.1h-1.1zM72.3 549.7h1.1v1.1h-1.1zM75.1 557.8h1.1v1.1h-1.1zM34.9 553.0h1.1v1.1h-1.1zM35.0 592.5h1.1v1.1h-1.1zM29.2 573.2h1.1v1.1h-1.1zM29.2 572.6h1.1v1.1h-1.1zM73.9 573.1h1.1v1.1h-1.1zM65.5 545.8h1.1v1.1h-1.1zM32.0 585.8h1.1v1.1h-1.1zM29.3 578.1h1.1v1.1h-1.1zM28.8 572.2h1.1v1.1h-1.1zM31.7 595.5h1.1v1.1h-1.1zM31.3 584.0h1.1v1.1h-1.1zM74.7 556.6h1.1v1.1h-1.1zM65.0 590.9h1.1v1.1h-1.1zM59.3 546.7h1.1v1.1h-1.1zM36.1 593.2h1.1v1.1h-1.1zM73.9 568.9h1.1v1.1h-1.1zM31.3 584.4h1.1v1.1h-1.1zM30.2 587.8h1.1v1.1h-1.1zM25.0 572.4h1.1v1.1h-1.1zM72.8 570.3h1.1v1.1h-1.1zM50.4 545.2h1.1v1.1h-1.1zM52.5 596.4h1.1v1.1h-1.1zM70.8 546.7h1.1v1.1h-1.1zM69.3 580.0h1.1v1.1h-1.1zM52.5 600.0h1.1v1.1h-1.1zM28.9 575.7h1.1v1.1h-1.1zM44.6 595.4h1.1v1.1h-1.1zM64.7 546.4h1.1v1.1h-1.1zM73.8 553.3h1.1v1.1h-1.1zM26.2 560.2h1.1v1.1h-1.1zM29.1 564.9h1.1v1.1h-1.1zM71.8 576.8h1.1v1.1h-1.1zM77.6 557.4h1.1v1.1h-1.1zM34.7 595.0h1.1v1.1h-1.1zM49.2 543.0h1.1v1.1h-1.1zM62.3 588.9h1.1v1.1h-1.1zM48.3 595.6h1.1v1.1h-1.1zM47.4 596.5h1.1v1.1h-1.1zM44.7 549.2h1.1v1.1h-1.1zM31.1 583.8h1.1v1.1h-1.1zM25.6 574.3h1.1v1.1h-1.1zM70.6 570.2h1.1v1.1h-1.1zM57.5 547.5h1.1v1.1h-1.1zM37.2 593.6h1.1v1.1h-1.1zM31.4 554.4h1.1v1.1h-1.1zM31.9 590.7h1.1v1.1h-1.1zM34.9 597.5h1.1v1.1h-1.1zM74.1 570.0h1.1v1.1h-1.1zM75.4 573.9h1.1v1.1h-1.1zM72.2 569.3h1.1v1.1h-1.1zM26.1 571.8h1.1v1.1h-1.1zM58.4 600.0h1.1v1.1h-1.1zM26.1 576.4h1.1v1.1h-1.1zM63.5 545.1h1.1v1.1h-1.1zM73.2 562.9h1.1v1.1h-1.1zM72.3 567.8h1.1v1.1h-1.1zM31.8 560.8h1.1v1.1h-1.1zM74.0 558.5h1.1v1.1h-1.1zM27.7 555.9h1.1v1.1h-1.1zM71.4 578.0h1.1v1.1h-1.1zM31.2 586.7h1.1v1.1h-1.1zM26.0 568.0h1.1v1.1h-1.1zM56.1 547.3h1.1v1.1h-1.1zM36.0 555.6h1.1v1.1h-1.1zM44.4 595.8h1.1v1.1h-1.1zM33.4 601.2h1.1v1.1h-1.1zM64.9 587.5h1.1v1.1h-1.1zM73.1 553.8h1.1v1.1h-1.1zM49.9 595.5h1.1v1.1h-1.1zM69.6 574.1h1.1v1.1h-1.1zM44.2 550.0h1.1v1.1h-1.1zM76.1 553.0h1.1v1.1h-1.1zM58.2 594.9h1.1v1.1h-1.1zM28.0 565.1h1.1v1.1h-1.1zM37.3 553.3h1.1v1.1h-1.1zM51.8 548.0h1.1v1.1h-1.1zM73.8 569.7h1.1v1.1h-1.1zM28.1 565.2h1.1v1.1h-1.1zM36.7 590.9h1.1v1.1h-1.1zM73.8 546.2h1.1v1.1h-1.1zM25.8 580.7h1.1v1.1h-1.1zM71.8 565.1h1.1v1.1h-1.1zM28.4 591.8h1.1v1.1h-1.1zM37.2 551.6h1.1v1.1h-1.1zM39.8 595.1h1.1v1.1h-1.1zM72.3 558.1h1.1v1.1h-1.1zM55.2 547.9h1.1v1.1h-1.1zM76.0 567.1h1.1v1.1h-1.1zM71.8 586.2h1.1v1.1h-1.1zM66.8 546.7h1.1v1.1h-1.1zM61.6 590.7h1.1v1.1h-1.1zM71.9 563.0h1.1v1.1h-1.1zM55.8 599.4h1.1v1.1h-1.1zM72.1 548.5h1.1v1.1h-1.1zM72.6 574.2h1.1v1.1h-1.1zM54.7 545.1h1.1v1.1h-1.1zM34.6 589.0h1.1v1.1h-1.1zM34.0 589.9h1.1v1.1h-1.1zM33.1 553.9h1.1v1.1h-1.1zM37.8 552.0h1.1v1.1h-1.1zM69.4 583.9h1.1v1.1h-1.1zM71.1 550.9h1.1v1.1h-1.1zM31.7 586.2h1.1v1.1h-1.1zM29.1 574.0h1.1v1.1h-1.1zM29.2 572.4h1.1v1.1h-1.1zM35.3 557.3h1.1v1.1h-1.1zM61.6 591.1h1.1v1.1h-1.1zM74.2 563.3h1.1v1.1h-1.1zM23.9 578.0h1.1v1.1h-1.1zM69.6 577.4h1.1v1.1h-1.1zM72.2 580.5h1.1v1.1h-1.1zM72.8 580.7h1.1v1.1h-1.1zM37.6 597.0h1.1v1.1h-1.1zM28.9 557.3h1.1v1.1h-1.1zM42.3 546.0h1.1v1.1h-1.1zM69.2 545.0h1.1v1.1h-1.1zM69.2 579.5h1.1v1.1h-1.1zM43.4 550.0h1.1v1.1h-1.1zM29.3 574.0h1.1v1.1h-1.1zM67.7 581.3h1.1v1.1h-1.1zM47.0 547.5h1.1v1.1h-1.1zM46.9 549.3h1.1v1.1h-1.1zM71.8 550.4h1.1v1.1h-1.1zM58.7 593.6h1.1v1.1h-1.1zM32.3 550.0h1.1v1.1h-1.1zM40.1 553.0h1.1v1.1h-1.1zM69.9 574.0h1.1v1.1h-1.1zM41.8 594.2h1.1v1.1h-1.1zM24.6 583.4h1.1v1.1h-1.1zM61.5 589.7h1.1v1.1h-1.1zM71.0 571.4h1.1v1.1h-1.1zM66.6 585.3h1.1v1.1h-1.1zM27.9 577.0h1.1v1.1h-1.1zM28.8 585.0h1.1v1.1h-1.1zM64.0 587.9h1.1v1.1h-1.1zM67.4 547.5h1.1v1.1h-1.1zM29.5 579.5h1.1v1.1h-1.1zM63.1 587.3h1.1v1.1h-1.1zM40.5 553.2h1.1v1.1h-1.1zM75.1 568.8h1.1v1.1h-1.1zM71.7 551.4h1.1v1.1h-1.1zM47.0 598.9h1.1v1.1h-1.1zM72.9 572.0h1.1v1.1h-1.1zM37.1 593.0h1.1v1.1h-1.1zM22.8 568.7h1.1v1.1h-1.1zM68.3 584.9h1.1v1.1h-1.1zM38.8 597.7h1.1v1.1h-1.1zM73.6 560.6h1.1v1.1h-1.1zM43.2 596.5h1.1v1.1h-1.1zM72.5 552.3h1.1v1.1h-1.1zM41.8 599.0h1.1v1.1h-1.1zM41.6 598.9h1.1v1.1h-1.1zM72.1 567.1h1.1v1.1h-1.1zM38.7 550.0h1.1v1.1h-1.1zM49.1 597.3h1.1v1.1h-1.1zM26.1 573.3h1.1v1.1h-1.1zM50.3 597.3h1.1v1.1h-1.1zM57.7 595.1h1.1v1.1h-1.1zM69.4 579.1h1.1v1.1h-1.1zM66.8 584.2h1.1v1.1h-1.1zM62.4 588.2h1.1v1.1h-1.1zM67.3 538.3h1.1v1.1h-1.1zM35.2 592.8h1.1v1.1h-1.1zM72.7 567.0h1.1v1.1h-1.1zM54.1 598.5h1.1v1.1h-1.1zM55.2 548.1h1.1v1.1h-1.1zM65.5 585.4h1.1v1.1h-1.1zM66.3 544.2h1.1v1.1h-1.1zM59.1 592.3h1.1v1.1h-1.1zM28.5 575.8h1.1v1.1h-1.1zM74.4 561.3h1.1v1.1h-1.1zM58.2 592.6h1.1v1.1h-1.1zM71.2 552.3h1.1v1.1h-1.1zM28.0 585.7h1.1v1.1h-1.1zM34.1 589.9h1.1v1.1h-1.1zM73.2 558.8h1.1v1.1h-1.1zM58.8 546.3h1.1v1.1h-1.1zM61.1 591.8h1.1v1.1h-1.1zM29.1 584.3h1.1v1.1h-1.1zM34.7 593.9h1.1v1.1h-1.1zM52.8 595.2h1.1v1.1h-1.1zM51.8 597.0h1.1v1.1h-1.1zM31.1 557.0h1.1v1.1h-1.1z" fill="#2020e6" opacity="0.8"/>
<path d="M30.0,565.0 L34.0,558.5 L41.0,553.4 L48.6,549.6 L56.8,547.8 L65.0,546.8 L70.2,549.2 L72.0,555.4 L71.4,565.7 L69.4,575.0 L66.2,583.2 L61.0,589.3 L54.8,594.5 L46.6,595.8 L39.4,592.6 L32.2,586.4 L29.2,576.0Z" fill="#1016f0" filter="url(#b05)"/>
<path d="M44.5 594.1h1v1h-1zM36.5 557.8h1v1h-1zM38.0 588.8h1v1h-1zM60.7 589.5h1v1h-1zM50.9 592.8h1v1h-1zM47.8 550.4h1v1h-1zM69.5 570.2h1v1h-1zM43.9 593.1h1v1h-1zM69.5 566.0h1v1h-1zM59.0 548.0h1v1h-1zM70.6 556.5h1v1h-1zM63.9 585.3h1v1h-1zM42.2 553.1h1v1h-1zM43.3 554.6h1v1h-1zM64.2 585.5h1v1h-1zM56.6 592.8h1v1h-1zM54.2 593.0h1v1h-1zM32.6 585.3h1v1h-1zM51.3 549.1h1v1h-1zM40.3 591.2h1v1h-1zM69.1 568.4h1v1h-1zM32.6 585.1h1v1h-1zM68.1 573.8h1v1h-1zM30.3 571.1h1v1h-1zM52.5 594.3h1v1h-1zM69.7 573.1h1v1h-1zM48.8 595.2h1v1h-1zM71.3 557.3h1v1h-1zM57.2 591.2h1v1h-1zM57.8 591.4h1v1h-1zM30.2 564.7h1v1h-1zM70.6 568.3h1v1h-1zM36.9 589.0h1v1h-1zM58.0 591.0h1v1h-1zM66.4 580.9h1v1h-1zM65.8 583.4h1v1h-1zM65.9 547.4h1v1h-1zM29.4 573.2h1v1h-1zM57.7 590.7h1v1h-1zM49.9 549.3h1v1h-1zM47.4 551.9h1v1h-1zM56.2 592.8h1v1h-1zM63.7 584.0h1v1h-1zM68.4 549.4h1v1h-1zM44.4 552.1h1v1h-1zM33.0 560.4h1v1h-1zM50.2 593.3h1v1h-1zM60.3 588.9h1v1h-1zM67.3 578.0h1v1h-1zM53.6 593.4h1v1h-1zM39.2 591.8h1v1h-1zM52.2 549.8h1v1h-1zM61.5 585.5h1v1h-1zM31.4 579.4h1v1h-1zM68.0 573.2h1v1h-1zM70.1 549.3h1v1h-1zM35.5 587.5h1v1h-1zM41.5 592.0h1v1h-1zM67.3 579.7h1v1h-1zM65.2 548.3h1v1h-1zM39.2 554.9h1v1h-1zM53.6 591.4h1v1h-1zM57.9 588.9h1v1h-1zM37.0 588.3h1v1h-1zM32.5 585.2h1v1h-1zM53.0 548.7h1v1h-1zM30.5 569.7h1v1h-1zM54.9 549.9h1v1h-1zM49.4 594.7h1v1h-1zM63.8 548.3h1v1h-1zM31.0 579.3h1v1h-1zM69.0 574.5h1v1h-1zM30.9 579.3h1v1h-1zM48.8 552.2h1v1h-1zM69.1 548.9h1v1h-1zM56.7 592.5h1v1h-1zM46.6 594.8h1v1h-1zM30.9 568.6h1v1h-1zM67.8 569.8h1v1h-1zM35.8 557.2h1v1h-1zM32.3 562.8h1v1h-1zM69.4 566.3h1v1h-1zM29.6 572.6h1v1h-1zM68.6 550.0h1v1h-1zM30.4 567.9h1v1h-1zM41.7 554.4h1v1h-1zM68.6 575.6h1v1h-1zM56.8 548.4h1v1h-1zM35.7 559.2h1v1h-1zM30.1 572.1h1v1h-1zM32.3 584.8h1v1h-1zM43.2 552.3h1v1h-1zM44.8 594.3h1v1h-1zM66.3 548.4h1v1h-1zM66.3 579.5h1v1h-1zM69.1 569.7h1v1h-1zM56.9 589.2h1v1h-1zM42.0 554.0h1v1h-1zM68.5 576.9h1v1h-1zM30.4 579.6h1v1h-1zM64.4 584.1h1v1h-1zM64.2 583.1h1v1h-1zM54.4 548.7h1v1h-1zM34.7 558.1h1v1h-1zM44.3 553.0h1v1h-1zM68.1 577.7h1v1h-1zM40.7 590.4h1v1h-1zM33.3 584.4h1v1h-1zM36.7 560.4h1v1h-1zM68.1 550.7h1v1h-1zM70.3 570.1h1v1h-1zM36.8 557.2h1v1h-1zM41.1 555.5h1v1h-1zM29.8 577.6h1v1h-1zM41.7 590.9h1v1h-1zM32.0 581.6h1v1h-1zM32.4 586.2h1v1h-1zM62.6 547.9h1v1h-1zM29.6 571.3h1v1h-1zM67.7 549.4h1v1h-1zM58.8 548.6h1v1h-1zM50.6 551.0h1v1h-1zM56.5 592.5h1v1h-1zM47.8 552.5h1v1h-1zM57.4 547.9h1v1h-1zM35.5 588.7h1v1h-1zM50.5 594.2h1v1h-1zM39.5 592.0h1v1h-1zM35.1 560.1h1v1h-1zM43.5 594.0h1v1h-1zM70.8 566.9h1v1h-1zM29.6 572.5h1v1h-1zM68.8 551.1h1v1h-1zM47.2 551.8h1v1h-1zM49.6 595.0h1v1h-1zM32.6 575.3h1v1h-1zM45.2 553.7h1v1h-1zM50.4 595.2h1v1h-1zM50.5 550.0h1v1h-1zM68.9 550.5h1v1h-1zM58.7 548.7h1v1h-1zM70.7 566.7h1v1h-1zM68.4 575.8h1v1h-1zM59.6 549.5h1v1h-1zM70.1 569.4h1v1h-1zM63.2 585.6h1v1h-1zM30.5 564.3h1v1h-1zM56.0 593.2h1v1h-1zM63.2 584.1h1v1h-1zM65.9 582.9h1v1h-1z" fill="#9aa0ff" opacity="0.9"/>
<g filter="url(#b2)"><ellipse cx="54" cy="568" rx="13" ry="21" fill="#1c44ff" transform="rotate(35 54 568)"/></g>
<g filter="url(#b07)"><path d="M53.2,583.3 L51.5,583.2 L49.9,582.8 L48.5,582.1 L47.2,581.3 L46.2,580.4 L45.4,579.2 L44.6,578.0 L44.1,576.5 L43.9,574.8 L44.0,573.0 L44.3,571.2 L44.5,569.5 L44.9,567.8 L45.3,566.2 L45.8,564.7 L46.3,563.2 L47.0,561.8 L47.6,560.5 L48.3,559.2 L49.0,557.9 L49.8,556.5 L50.5,555.3 L51.2,554.2 L52.2,553.1 L53.2,552.1 L54.3,551.2 L55.5,550.4 L56.8,549.6 L58.0,548.8 L59.2,548.0 L60.5,547.5 L62.2,547.2 L64.0,547.0 L65.2,547.6 L66.2,548.6 L67.2,549.6 L68.2,550.5 L69.2,551.7 L69.9,553.0 L70.2,554.8 L70.0,556.5 L69.5,558.2 L69.2,559.8 L68.9,561.5 L68.5,563.2 L68.1,564.8 L67.7,566.2 L67.1,567.8 L66.7,569.2 L66.2,570.8 L65.6,572.2 L64.9,573.5 L64.0,574.7 L63.1,575.8 L62.1,576.8 L61.0,577.7 L60.0,578.6 L59.0,579.5 L57.9,580.5 L56.8,581.5 L55.7,582.2 L54.3,583.0Z" fill="#1a48ff"/><path d="M54.8,580.0 L53.0,580.1 L51.8,579.6 L50.5,579.1 L49.2,578.6 L48.1,578.0 L47.2,577.2 L46.5,576.2 L46.2,574.8 L46.5,573.2 L47.0,572.0 L47.4,570.8 L47.8,569.5 L48.1,568.0 L48.4,566.5 L48.8,565.2 L49.2,563.9 L49.8,562.7 L50.3,561.5 L51.0,560.2 L51.5,559.1 L51.8,557.8 L52.2,556.2 L52.8,555.1 L53.5,554.0 L54.3,553.2 L55.3,552.5 L56.5,551.8 L57.5,551.2 L58.8,550.5 L59.8,550.0 L61.0,549.4 L62.5,549.2 L63.8,549.7 L64.8,550.4 L65.8,551.0 L66.9,551.8 L67.8,552.5 L68.5,553.8 L68.6,555.2 L68.1,556.5 L67.5,557.6 L66.8,558.8 L66.2,559.9 L66.0,561.2 L65.7,562.8 L65.3,564.2 L65.0,565.5 L64.5,567.0 L64.2,568.3 L64.2,570.0 L64.0,571.8 L63.5,573.0 L62.8,574.0 L62.0,574.9 L61.0,575.7 L60.0,576.5 L59.0,577.2 L58.0,578.0 L57.0,578.7 L56.0,579.4 L54.8,580.0Z" fill="#0a84ff"/><path d="M54.5,578.5 L53.2,578.4 L52.0,578.1 L50.8,577.8 L49.8,577.4 L48.8,576.9 L48.0,576.1 L47.6,575.0 L47.8,573.7 L48.2,572.6 L48.8,571.8 L49.5,570.9 L50.2,570.0 L50.8,569.1 L51.1,568.0 L51.4,566.8 L51.7,565.5 L52.0,564.5 L52.5,563.3 L53.0,562.2 L53.5,561.2 L53.8,560.2 L53.9,558.8 L53.6,557.5 L53.6,556.0 L54.0,555.0 L54.8,554.0 L55.5,553.4 L56.4,552.8 L57.2,552.2 L58.2,551.7 L59.2,551.2 L60.5,550.8 L61.8,550.5 L63.1,550.8 L64.2,551.2 L65.2,551.8 L66.0,552.2 L66.9,553.0 L67.5,554.0 L67.5,555.2 L67.1,556.2 L66.5,557.1 L65.8,557.9 L65.0,558.7 L64.4,559.5 L63.9,560.5 L63.7,561.8 L63.4,563.0 L63.1,564.2 L62.8,565.5 L62.5,566.6 L62.2,567.9 L62.4,569.0 L62.8,570.2 L62.9,571.5 L62.5,572.8 L62.0,573.6 L61.2,574.5 L60.5,575.2 L59.7,575.8 L58.8,576.4 L57.9,577.0 L57.0,577.5 L56.0,578.1 L54.8,578.5Z" fill="#00c8ff"/><path d="M54.8,577.8 L53.4,577.8 L52.1,577.5 L51.0,577.2 L49.9,576.8 L49.0,576.1 L48.5,575.2 L48.5,573.9 L49.0,572.8 L49.6,572.0 L50.4,571.2 L51.2,570.5 L51.9,569.8 L52.5,569.0 L53.0,567.8 L53.3,566.8 L53.5,565.5 L53.9,564.2 L54.2,563.1 L54.7,562.0 L55.0,561.0 L55.3,559.8 L55.0,558.5 L54.6,557.5 L54.4,556.2 L54.8,555.1 L55.3,554.2 L56.1,553.5 L57.0,552.9 L58.0,552.3 L59.0,551.9 L60.0,551.5 L61.2,551.2 L62.6,551.2 L63.8,551.6 L64.8,552.1 L65.8,552.7 L66.5,553.5 L66.9,554.5 L66.6,555.8 L66.0,556.7 L65.3,557.5 L64.5,558.2 L63.8,558.9 L63.2,559.8 L62.8,561.0 L62.6,562.2 L62.3,563.5 L62.0,564.8 L61.8,565.8 L61.4,567.0 L61.2,568.2 L61.5,569.5 L61.9,570.5 L62.1,571.8 L61.8,573.0 L61.2,573.8 L60.5,574.5 L59.7,575.2 L58.8,575.9 L57.8,576.5 L56.9,577.0 L55.8,577.5 L54.8,577.8Z" fill="#00f0d8"/><path d="M55.5,577.0 L54.2,577.2 L53.0,577.1 L52.0,576.9 L51.0,576.6 L50.2,576.2 L49.5,575.5 L49.2,574.8 L49.3,573.8 L49.8,573.0 L50.3,572.2 L51.0,571.6 L51.7,571.0 L52.3,570.5 L53.0,569.9 L53.5,569.2 L54.0,568.2 L54.2,567.2 L54.4,566.2 L54.7,565.2 L54.9,564.2 L55.2,563.2 L55.5,562.4 L55.8,561.5 L56.1,560.5 L56.3,559.5 L56.0,558.5 L55.7,557.8 L55.2,556.8 L55.2,555.8 L55.5,555.0 L56.1,554.2 L56.8,553.6 L57.5,553.1 L58.2,552.7 L59.2,552.2 L60.0,552.0 L61.0,551.7 L62.2,551.7 L63.2,552.0 L64.0,552.3 L64.8,552.8 L65.5,553.3 L66.0,554.0 L66.1,555.2 L65.8,556.1 L65.2,556.8 L64.5,557.4 L63.8,558.0 L63.2,558.5 L62.7,559.2 L62.2,560.2 L62.0,561.2 L61.8,562.2 L61.6,563.2 L61.4,564.2 L61.1,565.2 L60.9,566.2 L60.6,567.2 L60.4,568.2 L60.5,569.2 L60.9,570.2 L61.3,571.0 L61.3,572.2 L61.0,573.1 L60.5,573.8 L59.9,574.5 L59.2,575.0 L58.5,575.6 L57.8,576.0 L56.9,576.5 L56.0,576.9Z" fill="#30f040"/><path d="M55.0,576.5 L53.8,576.6 L52.8,576.4 L51.8,576.1 L51.0,575.7 L50.4,575.0 L50.2,574.0 L50.5,573.2 L51.1,572.5 L51.8,571.9 L52.5,571.3 L53.2,570.8 L53.8,570.2 L54.4,569.5 L54.9,568.8 L55.2,567.8 L55.4,566.8 L55.6,565.8 L55.8,564.8 L56.1,563.8 L56.4,562.8 L56.7,561.8 L57.0,560.9 L57.3,560.0 L57.2,559.0 L56.9,558.0 L56.4,557.2 L56.1,556.2 L56.3,555.2 L56.8,554.5 L57.5,553.8 L58.2,553.3 L59.0,552.9 L60.0,552.5 L61.0,552.3 L62.2,552.3 L63.2,552.6 L64.0,553.0 L64.8,553.6 L65.2,554.4 L65.2,555.3 L64.8,556.2 L64.2,556.8 L63.5,557.4 L62.8,558.0 L62.2,558.6 L61.7,559.2 L61.3,560.2 L61.1,561.2 L60.9,562.2 L60.8,563.3 L60.5,564.4 L60.2,565.3 L60.0,566.2 L59.7,567.2 L59.5,568.2 L59.5,569.2 L59.9,570.2 L60.3,571.0 L60.5,572.2 L60.1,573.2 L59.6,574.0 L59.0,574.5 L58.2,575.1 L57.5,575.6 L56.7,576.0 L55.8,576.4Z" fill="#b0f000"/><path d="M55.0,576.0 L53.8,576.0 L52.8,575.8 L52.0,575.5 L51.2,574.8 L51.2,573.8 L51.5,573.0 L52.2,572.2 L52.8,571.8 L53.5,571.2 L54.2,570.6 L54.9,570.0 L55.5,569.3 L55.9,568.5 L56.2,567.5 L56.3,566.5 L56.5,565.4 L56.8,564.4 L57.0,563.5 L57.3,562.5 L57.7,561.5 L58.1,560.8 L58.3,559.8 L58.1,558.8 L57.7,558.0 L57.2,557.2 L56.9,556.2 L57.0,555.2 L57.5,554.5 L58.2,553.9 L59.0,553.4 L60.0,553.0 L61.0,552.8 L62.2,552.9 L63.2,553.2 L64.0,553.7 L64.5,554.5 L64.5,555.3 L64.0,556.2 L63.5,556.8 L62.8,557.4 L62.0,558.0 L61.4,558.5 L60.8,559.2 L60.4,560.0 L60.2,561.0 L60.1,562.2 L59.9,563.2 L59.7,564.2 L59.5,565.2 L59.1,566.2 L58.8,567.2 L58.5,568.2 L58.7,569.5 L59.1,570.2 L59.5,571.1 L59.8,572.0 L59.6,573.0 L59.1,573.8 L58.5,574.4 L57.8,574.9 L57.0,575.4 L56.1,575.8 L55.1,576.0Z" fill="#f5f500"/><path d="M60.2,558.3 L60.0,558.4 L59.8,558.4 L59.5,558.4 L59.2,558.3 L59.2,558.2 L59.0,558.2 L58.8,558.0 L58.8,557.9 L58.6,557.8 L58.5,557.7 L58.3,557.5 L58.2,557.4 L58.1,557.2 L58.0,557.1 L58.0,557.0 L57.8,556.8 L57.8,556.6 L57.7,556.5 L57.6,556.2 L57.6,556.0 L57.6,555.8 L57.7,555.5 L57.7,555.2 L57.8,555.2 L57.9,555.0 L58.0,554.8 L58.0,554.8 L58.2,554.5 L58.3,554.5 L58.5,554.3 L58.6,554.2 L58.8,554.1 L58.9,554.0 L59.0,553.9 L59.2,553.8 L59.4,553.8 L59.5,553.7 L59.8,553.6 L60.0,553.5 L60.0,553.5 L60.2,553.4 L60.5,553.4 L60.8,553.3 L61.0,553.3 L61.2,553.3 L61.5,553.3 L61.8,553.3 L62.0,553.3 L62.2,553.4 L62.5,553.5 L62.5,553.5 L62.8,553.6 L63.0,553.7 L63.0,553.8 L63.2,553.9 L63.3,554.0 L63.5,554.2 L63.6,554.2 L63.7,554.5 L63.8,554.7 L63.8,554.8 L63.8,555.0 L63.8,555.2 L63.8,555.3 L63.7,555.5 L63.6,555.8 L63.5,555.8 L63.4,556.0 L63.2,556.2 L63.2,556.2 L63.0,556.4 L62.9,556.5 L62.8,556.7 L62.7,556.8 L62.5,556.9 L62.4,557.0 L62.2,557.1 L62.0,557.2 L62.0,557.3 L61.8,557.5 L61.7,557.5 L61.5,557.6 L61.3,557.8 L61.2,557.8 L61.0,557.9 L60.9,558.0 L60.8,558.1 L60.5,558.2 L60.4,558.2 L60.2,558.3ZM55.0,575.5 L54.8,575.5 L54.5,575.5 L54.2,575.5 L54.0,575.5 L54.0,575.5 L53.8,575.5 L53.5,575.4 L53.2,575.3 L53.0,575.2 L53.0,575.2 L52.8,575.1 L52.6,575.0 L52.5,574.9 L52.3,574.8 L52.2,574.7 L52.1,574.5 L52.0,574.2 L52.0,574.2 L52.0,574.0 L52.0,573.8 L52.0,573.8 L52.1,573.5 L52.2,573.2 L52.2,573.2 L52.4,573.0 L52.5,572.8 L52.6,572.8 L52.8,572.5 L52.8,572.5 L53.0,572.3 L53.0,572.2 L53.2,572.1 L53.3,572.0 L53.5,571.9 L53.6,571.8 L53.8,571.7 L54.0,571.5 L54.0,571.5 L54.2,571.3 L54.3,571.2 L54.5,571.1 L54.6,571.0 L54.8,570.9 L55.0,570.8 L55.0,570.7 L55.2,570.5 L55.3,570.5 L55.5,570.4 L55.7,570.2 L55.8,570.2 L56.0,570.0 L56.1,570.0 L56.2,569.9 L56.5,569.8 L56.5,569.8 L56.8,569.7 L57.0,569.6 L57.2,569.7 L57.4,569.8 L57.5,569.8 L57.8,570.0 L57.8,570.0 L58.0,570.2 L58.0,570.2 L58.2,570.5 L58.2,570.5 L58.4,570.8 L58.5,570.8 L58.6,571.0 L58.8,571.2 L58.8,571.2 L58.9,571.5 L59.0,571.8 L59.0,571.9 L59.0,572.0 L59.0,572.2 L59.0,572.5 L59.0,572.6 L59.0,572.8 L58.9,573.0 L58.8,573.2 L58.8,573.3 L58.6,573.5 L58.5,573.6 L58.4,573.8 L58.2,573.9 L58.2,574.0 L58.0,574.2 L57.9,574.2 L57.8,574.4 L57.6,574.5 L57.5,574.6 L57.2,574.7 L57.2,574.8 L57.0,574.9 L56.8,575.0 L56.8,575.0 L56.5,575.1 L56.2,575.2 L56.2,575.2 L56.0,575.3 L55.8,575.4 L55.5,575.4 L55.2,575.5 L55.2,575.5 L55.0,575.5Z" fill="#ff9a00"/><path d="M60.8,557.3 L60.5,557.4 L60.2,557.5 L60.0,557.5 L59.8,557.5 L59.5,557.4 L59.2,557.3 L59.2,557.2 L59.0,557.1 L58.9,557.0 L58.8,556.9 L58.7,556.8 L58.5,556.5 L58.5,556.5 L58.4,556.2 L58.3,556.0 L58.3,555.8 L58.4,555.5 L58.4,555.2 L58.5,555.2 L58.6,555.0 L58.8,554.8 L58.8,554.8 L59.0,554.6 L59.1,554.5 L59.2,554.4 L59.4,554.2 L59.5,554.2 L59.8,554.1 L59.9,554.0 L60.0,554.0 L60.2,553.9 L60.5,553.8 L60.8,553.8 L61.0,553.8 L61.2,553.8 L61.5,553.8 L61.8,553.8 L62.0,553.9 L62.2,554.0 L62.3,554.0 L62.5,554.2 L62.6,554.2 L62.8,554.4 L62.9,554.5 L63.0,554.8 L63.0,554.8 L63.0,555.0 L63.0,555.2 L63.0,555.3 L63.0,555.5 L62.8,555.8 L62.8,555.9 L62.7,556.0 L62.5,556.2 L62.4,556.2 L62.2,556.4 L62.2,556.5 L62.0,556.6 L61.8,556.8 L61.8,556.8 L61.5,557.0 L61.5,557.0 L61.2,557.1 L61.0,557.2 L61.0,557.2 L60.8,557.3ZM55.2,575.0 L55.0,575.0 L54.8,575.0 L54.5,575.0 L54.2,575.0 L54.2,575.0 L54.0,574.9 L53.8,574.9 L53.5,574.8 L53.5,574.8 L53.2,574.6 L53.1,574.5 L53.0,574.3 L52.9,574.2 L52.8,574.0 L52.8,573.8 L52.9,573.5 L53.0,573.2 L53.0,573.2 L53.1,573.0 L53.2,572.8 L53.3,572.8 L53.5,572.6 L53.6,572.5 L53.8,572.3 L53.8,572.2 L54.0,572.1 L54.1,572.0 L54.2,571.9 L54.5,571.8 L54.5,571.7 L54.8,571.5 L54.8,571.5 L55.0,571.4 L55.2,571.2 L55.2,571.2 L55.5,571.1 L55.7,571.0 L55.8,571.0 L56.0,570.9 L56.2,570.8 L56.3,570.8 L56.5,570.7 L56.8,570.7 L57.0,570.7 L57.1,570.8 L57.2,570.8 L57.5,570.9 L57.6,571.0 L57.8,571.1 L57.9,571.2 L58.0,571.4 L58.1,571.5 L58.2,571.8 L58.2,571.8 L58.3,572.0 L58.3,572.2 L58.4,572.5 L58.3,572.8 L58.2,572.9 L58.2,573.0 L58.1,573.2 L58.0,573.4 L57.9,573.5 L57.8,573.7 L57.7,573.8 L57.5,574.0 L57.5,574.0 L57.2,574.2 L57.2,574.2 L57.0,574.4 L56.8,574.5 L56.8,574.5 L56.5,574.6 L56.2,574.7 L56.2,574.8 L56.0,574.8 L55.8,574.9 L55.5,575.0 L55.3,575.0 L55.2,575.0Z" fill="#ff2000"/></g>
</g>
<rect x="27.50" y="505.00" width="115.80" height="115.30" fill="none" stroke="#000" stroke-width="1.7"/>
<line x1="24.10" y1="611.50" x2="27.50" y2="611.50" stroke="#000" stroke-width="1.3" />
<line x1="25.70" y1="606.53" x2="27.50" y2="606.53" stroke="#000" stroke-width="1.1" />
<line x1="25.70" y1="603.63" x2="27.50" y2="603.63" stroke="#000" stroke-width="1.1" />
<line x1="25.70" y1="601.57" x2="27.50" y2="601.57" stroke="#000" stroke-width="1.1" />
<line x1="25.70" y1="599.97" x2="27.50" y2="599.97" stroke="#000" stroke-width="1.1" />
<line x1="25.70" y1="598.66" x2="27.50" y2="598.66" stroke="#000" stroke-width="1.1" />
<line x1="25.70" y1="597.56" x2="27.50" y2="597.56" stroke="#000" stroke-width="1.1" />
<line x1="25.70" y1="596.60" x2="27.50" y2="596.60" stroke="#000" stroke-width="1.1" />
<line x1="25.70" y1="595.75" x2="27.50" y2="595.75" stroke="#000" stroke-width="1.1" />
<line x1="24.10" y1="595.00" x2="27.50" y2="595.00" stroke="#000" stroke-width="1.3" />
<line x1="25.70" y1="587.02" x2="27.50" y2="587.02" stroke="#000" stroke-width="1.1" />
<line x1="25.70" y1="582.36" x2="27.50" y2="582.36" stroke="#000" stroke-width="1.1" />
<line x1="25.70" y1="579.05" x2="27.50" y2="579.05" stroke="#000" stroke-width="1.1" />
<line x1="25.70" y1="576.48" x2="27.50" y2="576.48" stroke="#000" stroke-width="1.1" />
<line x1="25.70" y1="574.38" x2="27.50" y2="574.38" stroke="#000" stroke-width="1.1" />
<line x1="25.70" y1="572.60" x2="27.50" y2="572.60" stroke="#000" stroke-width="1.1" />
<line x1="25.70" y1="571.07" x2="27.50" y2="571.07" stroke="#000" stroke-width="1.1" />
<line x1="25.70" y1="569.71" x2="27.50" y2="569.71" stroke="#000" stroke-width="1.1" />
<line x1="24.10" y1="568.50" x2="27.50" y2="568.50" stroke="#000" stroke-width="1.3" />
<line x1="25.70" y1="560.52" x2="27.50" y2="560.52" stroke="#000" stroke-width="1.1" />
<line x1="25.70" y1="555.86" x2="27.50" y2="555.86" stroke="#000" stroke-width="1.1" />
<line x1="25.70" y1="552.55" x2="27.50" y2="552.55" stroke="#000" stroke-width="1.1" />
<line x1="25.70" y1="549.98" x2="27.50" y2="549.98" stroke="#000" stroke-width="1.1" />
<line x1="25.70" y1="547.88" x2="27.50" y2="547.88" stroke="#000" stroke-width="1.1" />
<line x1="25.70" y1="546.10" x2="27.50" y2="546.10" stroke="#000" stroke-width="1.1" />
<line x1="25.70" y1="544.57" x2="27.50" y2="544.57" stroke="#000" stroke-width="1.1" />
<line x1="25.70" y1="543.21" x2="27.50" y2="543.21" stroke="#000" stroke-width="1.1" />
<line x1="24.10" y1="542.00" x2="27.50" y2="542.00" stroke="#000" stroke-width="1.3" />
<line x1="25.70" y1="534.02" x2="27.50" y2="534.02" stroke="#000" stroke-width="1.1" />
<line x1="25.70" y1="529.36" x2="27.50" y2="529.36" stroke="#000" stroke-width="1.1" />
<line x1="25.70" y1="526.05" x2="27.50" y2="526.05" stroke="#000" stroke-width="1.1" />
<line x1="25.70" y1="523.48" x2="27.50" y2="523.48" stroke="#000" stroke-width="1.1" />
<line x1="25.70" y1="521.38" x2="27.50" y2="521.38" stroke="#000" stroke-width="1.1" />
<line x1="25.70" y1="519.60" x2="27.50" y2="519.60" stroke="#000" stroke-width="1.1" />
<line x1="25.70" y1="518.07" x2="27.50" y2="518.07" stroke="#000" stroke-width="1.1" />
<line x1="25.70" y1="516.71" x2="27.50" y2="516.71" stroke="#000" stroke-width="1.1" />
<line x1="24.10" y1="515.50" x2="27.50" y2="515.50" stroke="#000" stroke-width="1.3" />
<line x1="34.20" y1="620.30" x2="34.20" y2="623.70" stroke="#000" stroke-width="1.3" />
<line x1="39.77" y1="620.30" x2="39.77" y2="622.10" stroke="#000" stroke-width="1.1" />
<line x1="43.03" y1="620.30" x2="43.03" y2="622.10" stroke="#000" stroke-width="1.1" />
<line x1="45.34" y1="620.30" x2="45.34" y2="622.10" stroke="#000" stroke-width="1.1" />
<line x1="47.13" y1="620.30" x2="47.13" y2="622.10" stroke="#000" stroke-width="1.1" />
<line x1="48.60" y1="620.30" x2="48.60" y2="622.10" stroke="#000" stroke-width="1.1" />
<line x1="49.83" y1="620.30" x2="49.83" y2="622.10" stroke="#000" stroke-width="1.1" />
<line x1="50.91" y1="620.30" x2="50.91" y2="622.10" stroke="#000" stroke-width="1.1" />
<line x1="51.85" y1="620.30" x2="51.85" y2="622.10" stroke="#000" stroke-width="1.1" />
<line x1="52.70" y1="620.30" x2="52.70" y2="623.70" stroke="#000" stroke-width="1.3" />
<line x1="60.68" y1="620.30" x2="60.68" y2="622.10" stroke="#000" stroke-width="1.1" />
<line x1="65.34" y1="620.30" x2="65.34" y2="622.10" stroke="#000" stroke-width="1.1" />
<line x1="68.65" y1="620.30" x2="68.65" y2="622.10" stroke="#000" stroke-width="1.1" />
<line x1="71.22" y1="620.30" x2="71.22" y2="622.10" stroke="#000" stroke-width="1.1" />
<line x1="73.32" y1="620.30" x2="73.32" y2="622.10" stroke="#000" stroke-width="1.1" />
<line x1="75.10" y1="620.30" x2="75.10" y2="622.10" stroke="#000" stroke-width="1.1" />
<line x1="76.63" y1="620.30" x2="76.63" y2="622.10" stroke="#000" stroke-width="1.1" />
<line x1="77.99" y1="620.30" x2="77.99" y2="622.10" stroke="#000" stroke-width="1.1" />
<line x1="79.20" y1="620.30" x2="79.20" y2="623.70" stroke="#000" stroke-width="1.3" />
<line x1="87.18" y1="620.30" x2="87.18" y2="622.10" stroke="#000" stroke-width="1.1" />
<line x1="91.84" y1="620.30" x2="91.84" y2="622.10" stroke="#000" stroke-width="1.1" />
<line x1="95.15" y1="620.30" x2="95.15" y2="622.10" stroke="#000" stroke-width="1.1" />
<line x1="97.72" y1="620.30" x2="97.72" y2="622.10" stroke="#000" stroke-width="1.1" />
<line x1="99.82" y1="620.30" x2="99.82" y2="622.10" stroke="#000" stroke-width="1.1" />
<line x1="101.60" y1="620.30" x2="101.60" y2="622.10" stroke="#000" stroke-width="1.1" />
<line x1="103.13" y1="620.30" x2="103.13" y2="622.10" stroke="#000" stroke-width="1.1" />
<line x1="104.49" y1="620.30" x2="104.49" y2="622.10" stroke="#000" stroke-width="1.1" />
<line x1="105.70" y1="620.30" x2="105.70" y2="623.70" stroke="#000" stroke-width="1.3" />
<line x1="113.68" y1="620.30" x2="113.68" y2="622.10" stroke="#000" stroke-width="1.1" />
<line x1="118.34" y1="620.30" x2="118.34" y2="622.10" stroke="#000" stroke-width="1.1" />
<line x1="121.65" y1="620.30" x2="121.65" y2="622.10" stroke="#000" stroke-width="1.1" />
<line x1="124.22" y1="620.30" x2="124.22" y2="622.10" stroke="#000" stroke-width="1.1" />
<line x1="126.32" y1="620.30" x2="126.32" y2="622.10" stroke="#000" stroke-width="1.1" />
<line x1="128.10" y1="620.30" x2="128.10" y2="622.10" stroke="#000" stroke-width="1.1" />
<line x1="129.63" y1="620.30" x2="129.63" y2="622.10" stroke="#000" stroke-width="1.1" />
<line x1="130.99" y1="620.30" x2="130.99" y2="622.10" stroke="#000" stroke-width="1.1" />
<line x1="132.20" y1="620.30" x2="132.20" y2="623.70" stroke="#000" stroke-width="1.3" />
<text x="84.20" y="640.60" font-size="13.3" text-anchor="middle" font-weight="normal" fill="#222" stroke="#222" stroke-width="0.15" >IFN-γ</text>
<g transform="translate(17.3,563.6) rotate(-90)">
<text x="0.00" y="0.00" font-size="13.4" text-anchor="middle" font-weight="normal" fill="#222" stroke="#222" stroke-width="0.15" >T-bet</text>
</g>
<path d="M245,621.2 L246.5,587.8 L248.4,574.4 L249.7,570.6 L251.5,574 L253.2,578.2 L255.1,561.1 L257.4,557.3 L259.3,534.4 L261.8,511.8 L263.7,524.8 L265.6,557.3 L267.5,589.7 L270.3,610.7 L273.2,620.5 L274,621.2 Z" fill="#b9bbf2" stroke="#2a2ac4" stroke-width="1.3" stroke-linejoin="round"/>
<path d="M223,621.2 L225,618.5 L228.4,612.6 L231.2,599.2 L233.1,576.3 L234.5,547.7 L235.6,524.8 L237.3,511.8 L238.9,521 L239.8,531.5 L241.7,523.9 L243.6,532.4 L245.2,557.3 L246.5,585.9 L248.4,606.9 L250.3,615.5 L253.2,616.4 L255,619.5 L256.5,621.2 Z" fill="#fcd9c0" stroke="#ea9248" stroke-width="1.3" stroke-linejoin="round"/>
<line x1="181.90" y1="620.80" x2="297.30" y2="620.80" stroke="#ea9248" stroke-width="1.2" />
<rect x="181.90" y="505.00" width="115.40" height="116.20" fill="none" stroke="#000" stroke-width="1.7"/>
<line x1="178.90" y1="510.90" x2="181.90" y2="510.90" stroke="#000" stroke-width="1.2" />
<line x1="178.90" y1="532.60" x2="181.90" y2="532.60" stroke="#000" stroke-width="1.2" />
<line x1="178.90" y1="554.60" x2="181.90" y2="554.60" stroke="#000" stroke-width="1.2" />
<line x1="178.90" y1="576.60" x2="181.90" y2="576.60" stroke="#000" stroke-width="1.2" />
<line x1="178.90" y1="598.70" x2="181.90" y2="598.70" stroke="#000" stroke-width="1.2" />
<line x1="189.90" y1="621.20" x2="189.90" y2="624.40" stroke="#000" stroke-width="1.3" />
<line x1="194.57" y1="621.20" x2="194.57" y2="623.00" stroke="#000" stroke-width="1.1" />
<line x1="197.30" y1="621.20" x2="197.30" y2="623.00" stroke="#000" stroke-width="1.1" />
<line x1="199.23" y1="621.20" x2="199.23" y2="623.00" stroke="#000" stroke-width="1.1" />
<line x1="200.73" y1="621.20" x2="200.73" y2="623.00" stroke="#000" stroke-width="1.1" />
<line x1="201.96" y1="621.20" x2="201.96" y2="623.00" stroke="#000" stroke-width="1.1" />
<line x1="203.00" y1="621.20" x2="203.00" y2="623.00" stroke="#000" stroke-width="1.1" />
<line x1="203.90" y1="621.20" x2="203.90" y2="623.00" stroke="#000" stroke-width="1.1" />
<line x1="204.69" y1="621.20" x2="204.69" y2="623.00" stroke="#000" stroke-width="1.1" />
<line x1="205.40" y1="621.20" x2="205.40" y2="624.40" stroke="#000" stroke-width="1.3" />
<line x1="213.65" y1="621.20" x2="213.65" y2="623.00" stroke="#000" stroke-width="1.1" />
<line x1="218.47" y1="621.20" x2="218.47" y2="623.00" stroke="#000" stroke-width="1.1" />
<line x1="221.90" y1="621.20" x2="221.90" y2="623.00" stroke="#000" stroke-width="1.1" />
<line x1="224.55" y1="621.20" x2="224.55" y2="623.00" stroke="#000" stroke-width="1.1" />
<line x1="226.72" y1="621.20" x2="226.72" y2="623.00" stroke="#000" stroke-width="1.1" />
<line x1="228.56" y1="621.20" x2="228.56" y2="623.00" stroke="#000" stroke-width="1.1" />
<line x1="230.14" y1="621.20" x2="230.14" y2="623.00" stroke="#000" stroke-width="1.1" />
<line x1="231.55" y1="621.20" x2="231.55" y2="623.00" stroke="#000" stroke-width="1.1" />
<line x1="232.80" y1="621.20" x2="232.80" y2="624.40" stroke="#000" stroke-width="1.3" />
<line x1="240.78" y1="621.20" x2="240.78" y2="623.00" stroke="#000" stroke-width="1.1" />
<line x1="245.44" y1="621.20" x2="245.44" y2="623.00" stroke="#000" stroke-width="1.1" />
<line x1="248.75" y1="621.20" x2="248.75" y2="623.00" stroke="#000" stroke-width="1.1" />
<line x1="251.32" y1="621.20" x2="251.32" y2="623.00" stroke="#000" stroke-width="1.1" />
<line x1="253.42" y1="621.20" x2="253.42" y2="623.00" stroke="#000" stroke-width="1.1" />
<line x1="255.20" y1="621.20" x2="255.20" y2="623.00" stroke="#000" stroke-width="1.1" />
<line x1="256.73" y1="621.20" x2="256.73" y2="623.00" stroke="#000" stroke-width="1.1" />
<line x1="258.09" y1="621.20" x2="258.09" y2="623.00" stroke="#000" stroke-width="1.1" />
<line x1="259.30" y1="621.20" x2="259.30" y2="624.40" stroke="#000" stroke-width="1.3" />
<line x1="267.28" y1="621.20" x2="267.28" y2="623.00" stroke="#000" stroke-width="1.1" />
<line x1="271.94" y1="621.20" x2="271.94" y2="623.00" stroke="#000" stroke-width="1.1" />
<line x1="275.25" y1="621.20" x2="275.25" y2="623.00" stroke="#000" stroke-width="1.1" />
<line x1="277.82" y1="621.20" x2="277.82" y2="623.00" stroke="#000" stroke-width="1.1" />
<line x1="279.92" y1="621.20" x2="279.92" y2="623.00" stroke="#000" stroke-width="1.1" />
<line x1="281.70" y1="621.20" x2="281.70" y2="623.00" stroke="#000" stroke-width="1.1" />
<line x1="283.23" y1="621.20" x2="283.23" y2="623.00" stroke="#000" stroke-width="1.1" />
<line x1="284.59" y1="621.20" x2="284.59" y2="623.00" stroke="#000" stroke-width="1.1" />
<line x1="285.80" y1="621.20" x2="285.80" y2="624.40" stroke="#000" stroke-width="1.3" />
<text x="238.60" y="640.30" font-size="14" text-anchor="middle" font-weight="normal" fill="#222" stroke="#222" stroke-width="0.15" >Perforin</text>
<g transform="translate(173.6,564) rotate(-90)">
<text x="0.00" y="0.00" font-size="13.4" text-anchor="middle" font-weight="normal" fill="#222" stroke="#222" stroke-width="0.15" >% of Max</text>
</g>
</svg></body></html>
